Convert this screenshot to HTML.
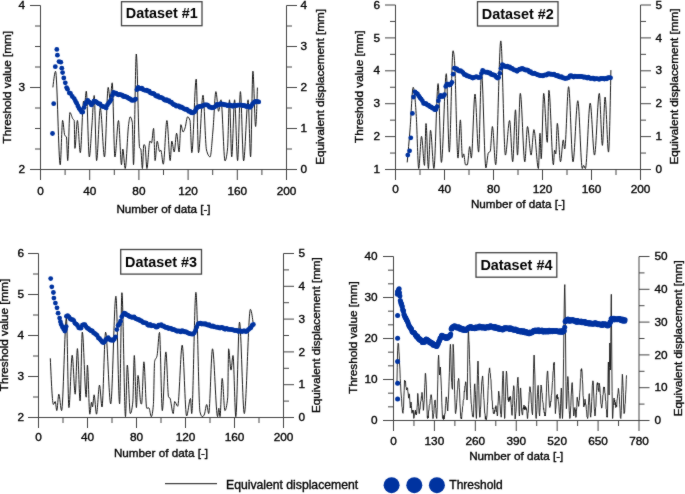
<!DOCTYPE html><html><head><meta charset="utf-8"><style>html,body{margin:0;padding:0;background:#fff;overflow:hidden}svg{display:block}#w{width:685px;height:494px;overflow:hidden}</style></head><body><div id="w"><svg width="685" height="494" viewBox="0 0 685 494" font-family='"Liberation Sans", sans-serif'>
<defs><filter id="soft" x="0" y="0" width="685" height="494" filterUnits="userSpaceOnUse" color-interpolation-filters="sRGB"><feConvolveMatrix order="3" kernelMatrix="1 2 1 2 28 2 1 2 1" divisor="40" edgeMode="duplicate"/></filter></defs><g filter="url(#soft)">
<rect width="685" height="494" fill="#fff"/>
<line x1="40.5" y1="5.5" x2="40.5" y2="169.5" stroke="#444" stroke-width="1"/>
<line x1="286.5" y1="5.5" x2="286.5" y2="169.5" stroke="#444" stroke-width="1"/>
<line x1="30" y1="169.5" x2="297" y2="169.5" stroke="#444" stroke-width="1"/>
<text x="25" y="173.1" font-size="11.8" text-anchor="end" font-weight="normal" fill="#000" stroke="#000" stroke-width="0.35">2</text>
<line x1="35" y1="149" x2="40.5" y2="149" stroke="#444" stroke-width="1"/>
<line x1="35" y1="128.5" x2="40.5" y2="128.5" stroke="#444" stroke-width="1"/>
<line x1="35" y1="108" x2="40.5" y2="108" stroke="#444" stroke-width="1"/>
<line x1="30" y1="87.5" x2="40.5" y2="87.5" stroke="#444" stroke-width="1"/>
<text x="25" y="91.1" font-size="11.8" text-anchor="end" font-weight="normal" fill="#000" stroke="#000" stroke-width="0.35">3</text>
<line x1="35" y1="67" x2="40.5" y2="67" stroke="#444" stroke-width="1"/>
<line x1="35" y1="46.5" x2="40.5" y2="46.5" stroke="#444" stroke-width="1"/>
<line x1="35" y1="26" x2="40.5" y2="26" stroke="#444" stroke-width="1"/>
<line x1="30" y1="5.5" x2="40.5" y2="5.5" stroke="#444" stroke-width="1"/>
<text x="25" y="9.1" font-size="11.8" text-anchor="end" font-weight="normal" fill="#000" stroke="#000" stroke-width="0.35">4</text>
<text x="300.5" y="173.1" font-size="11.8" text-anchor="start" font-weight="normal" fill="#000" stroke="#000" stroke-width="0.35">0</text>
<line x1="286.5" y1="149" x2="292" y2="149" stroke="#444" stroke-width="1"/>
<line x1="286.5" y1="128.5" x2="297" y2="128.5" stroke="#444" stroke-width="1"/>
<text x="300.5" y="132.1" font-size="11.8" text-anchor="start" font-weight="normal" fill="#000" stroke="#000" stroke-width="0.35">1</text>
<line x1="286.5" y1="108" x2="292" y2="108" stroke="#444" stroke-width="1"/>
<line x1="286.5" y1="87.5" x2="297" y2="87.5" stroke="#444" stroke-width="1"/>
<text x="300.5" y="91.1" font-size="11.8" text-anchor="start" font-weight="normal" fill="#000" stroke="#000" stroke-width="0.35">2</text>
<line x1="286.5" y1="67" x2="292" y2="67" stroke="#444" stroke-width="1"/>
<line x1="286.5" y1="46.5" x2="297" y2="46.5" stroke="#444" stroke-width="1"/>
<text x="300.5" y="50.1" font-size="11.8" text-anchor="start" font-weight="normal" fill="#000" stroke="#000" stroke-width="0.35">3</text>
<line x1="286.5" y1="26" x2="292" y2="26" stroke="#444" stroke-width="1"/>
<line x1="286.5" y1="5.5" x2="297" y2="5.5" stroke="#444" stroke-width="1"/>
<text x="300.5" y="9.1" font-size="11.8" text-anchor="start" font-weight="normal" fill="#000" stroke="#000" stroke-width="0.35">4</text>
<line x1="40.5" y1="169.5" x2="40.5" y2="180" stroke="#444" stroke-width="1"/>
<text x="40.5" y="195.3" font-size="11.8" text-anchor="middle" font-weight="normal" fill="#000" stroke="#000" stroke-width="0.35">0</text>
<line x1="65.1" y1="169.5" x2="65.1" y2="175" stroke="#444" stroke-width="1"/>
<line x1="89.7" y1="169.5" x2="89.7" y2="180" stroke="#444" stroke-width="1"/>
<text x="89.7" y="195.3" font-size="11.8" text-anchor="middle" font-weight="normal" fill="#000" stroke="#000" stroke-width="0.35">40</text>
<line x1="114.3" y1="169.5" x2="114.3" y2="175" stroke="#444" stroke-width="1"/>
<line x1="138.9" y1="169.5" x2="138.9" y2="180" stroke="#444" stroke-width="1"/>
<text x="138.9" y="195.3" font-size="11.8" text-anchor="middle" font-weight="normal" fill="#000" stroke="#000" stroke-width="0.35">80</text>
<line x1="163.5" y1="169.5" x2="163.5" y2="175" stroke="#444" stroke-width="1"/>
<line x1="188.1" y1="169.5" x2="188.1" y2="180" stroke="#444" stroke-width="1"/>
<text x="188.1" y="195.3" font-size="11.8" text-anchor="middle" font-weight="normal" fill="#000" stroke="#000" stroke-width="0.35">120</text>
<line x1="212.7" y1="169.5" x2="212.7" y2="175" stroke="#444" stroke-width="1"/>
<line x1="237.3" y1="169.5" x2="237.3" y2="180" stroke="#444" stroke-width="1"/>
<text x="237.3" y="195.3" font-size="11.8" text-anchor="middle" font-weight="normal" fill="#000" stroke="#000" stroke-width="0.35">160</text>
<line x1="261.9" y1="169.5" x2="261.9" y2="175" stroke="#444" stroke-width="1"/>
<line x1="286.5" y1="169.5" x2="286.5" y2="180" stroke="#444" stroke-width="1"/>
<text x="286.5" y="195.3" font-size="11.8" text-anchor="middle" font-weight="normal" fill="#000" stroke="#000" stroke-width="0.35">200</text>
<text x="163.5" y="213.2" font-size="11.7" text-anchor="middle" font-weight="normal" fill="#000" stroke="#000" stroke-width="0.35">Number of data [-]</text>
<text x="11.2" y="87.2" font-size="11.7" text-anchor="middle" font-weight="normal" fill="#000" stroke="#000" stroke-width="0.35" transform="rotate(-90 11.2 87.2)">Threshold value [mm]</text>
<text x="324.3" y="86.9" font-size="11.7" text-anchor="middle" font-weight="normal" fill="#000" stroke="#000" stroke-width="0.35" transform="rotate(-90 324.3 86.9)">Equivalent displacement [mm]</text>
<rect x="121.5" y="1.7" width="80.5" height="24" fill="#fff" stroke="#444" stroke-width="1.3"/>
<text x="161.75" y="18.4" font-size="14.4" text-anchor="middle" font-weight="bold" fill="#000">Dataset #1</text>
<path d="M52.9,87.4C53.8,79.35 54.7,71.3 55.6,71.3C57.13,71.3 58.67,164.8 60.2,164.8C61,164.8 61.8,120.4 62.6,120.4C63.33,120.4 64.07,134.31 64.8,135.5C65.33,136.37 65.87,135.93 66.4,136.8C66.83,137.5 67.27,160.6 67.7,160.6C68.43,160.6 69.17,112.5 69.9,112.5C70.93,112.5 71.97,117.83 73,119.2C73.4,119.73 73.8,119.6 74.2,120.4C74.43,120.87 74.67,148.4 74.9,148.4C75.73,148.4 76.57,120.4 77.4,120.4C78.37,120.4 79.33,152.7 80.3,152.7C81.4,152.7 82.5,101 83.6,101C83.93,101 84.27,104 84.6,104C85.17,104 85.73,91.2 86.3,91.2C87.3,91.2 88.3,157 89.3,157C90.13,157 90.97,137.48 91.8,127C92.6,116.94 93.4,95.5 94.2,95.5C95,95.5 95.8,160.6 96.6,160.6C97.83,160.6 99.07,108.2 100.3,108.2C101.7,108.2 103.1,157 104.5,157C105.73,157 106.97,87.4 108.2,87.4C108.87,87.4 109.53,100 110.2,100C110.87,100 111.53,82.8 112.2,82.8C113.1,82.8 114,157 114.9,157C116.1,157 117.3,120.5 118.5,120.5C119.5,120.5 120.5,164.8 121.5,164.8C121.93,164.8 122.37,149 122.8,149C123.6,149 124.4,168.5 125.2,168.5C126.33,168.5 127.47,133.31 128.6,124.7C129.1,120.9 129.6,116.8 130.1,116.8C130.83,116.8 131.57,118.63 132.3,122.3C132.7,124.3 133.1,164.8 133.5,164.8C134.43,164.8 135.37,54 136.3,54C137.4,54 138.5,145.6 139.6,147.8C140,148.6 140.4,148.2 140.8,149C141.33,150.07 141.87,168.5 142.4,168.5C142.87,168.5 143.33,144.8 143.8,144.8C144.2,144.8 144.6,145 145,145.4C145.63,146.03 146.27,168.5 146.9,168.5C147.9,168.5 148.9,141.1 149.9,141.1C150.43,141.1 150.97,143 151.5,143C152.2,143 152.9,128.4 153.6,128.4C154.1,128.4 154.6,160.6 155.1,160.6C155.8,160.6 156.5,141.1 157.2,141.1C158,141.1 158.8,151.5 159.6,151.5C160,151.5 160.4,150.2 160.8,150.2C161.63,150.2 162.47,164.2 163.3,164.2C164.5,164.2 165.7,120.5 166.9,120.5C168,120.5 169.1,160.6 170.2,160.6C170.73,160.6 171.27,141.1 171.8,141.1C172.6,141.1 173.4,152 174.2,152C175,152 175.8,133.2 176.6,133.2C177.43,133.2 178.27,152 179.1,152C179.7,152 180.3,124.7 180.9,124.7C181.63,124.7 182.37,132 183.1,132C183.77,132 184.43,129.88 185.1,127.8C185.93,125.2 186.77,116.8 187.6,116.8C188.4,116.8 189.2,118.03 190,120.5C190.6,122.35 191.2,152.7 191.8,152.7C193.27,152.7 194.73,79.2 196.2,79.2C196.97,79.2 197.73,152.7 198.5,152.7C200,152.7 201.5,95.2 203,95.2C204.17,95.2 205.33,145.53 206.5,150C207.7,154.6 208.9,156.9 210.1,156.9C211.07,156.9 212.03,140.88 213,130C213.97,119.12 214.93,91.6 215.9,91.6C216.8,91.6 217.7,111.3 218.6,111.3C219.4,111.3 220.2,99.8 221,99.8C222.33,99.8 223.67,160.9 225,160.9C225.83,160.9 226.67,156.93 227.5,149C228.17,142.65 228.83,99.8 229.5,99.8C230.23,99.8 230.97,156.9 231.7,156.9C232.67,156.9 233.63,99.8 234.6,99.8C235.6,99.8 236.6,160.6 237.6,160.6C238.53,160.6 239.47,91.6 240.4,91.6C241.47,91.6 242.53,160.9 243.6,160.9C245.1,160.9 246.6,99.8 248.1,99.8C248.93,99.8 249.77,156.9 250.6,156.9C251.37,156.9 252.13,71.2 252.9,71.2C253.8,71.2 254.7,126.5 255.6,126.5C256.2,126.5 256.8,107.05 257.4,87.6" fill="none" stroke="#1a1a1a" stroke-width="1" stroke-linejoin="round"/>
<g fill="#0033a0"><circle cx="52.5" cy="133.5" r="2.4"/><circle cx="53.7" cy="103.7" r="2.4"/><circle cx="55.3" cy="66.7" r="2.4"/><circle cx="56.8" cy="49.4" r="2.4"/><circle cx="57.4" cy="55.2" r="2.4"/><circle cx="59" cy="61.6" r="2.4"/><circle cx="60.8" cy="62.2" r="2.4"/><circle cx="61.8" cy="68.2" r="2.4"/><circle cx="62.6" cy="72.6" r="2.4"/><circle cx="63.8" cy="78" r="2.4"/><circle cx="65.3" cy="82.8" r="2.4"/><circle cx="66.6" cy="87.6" r="2.4"/><circle cx="67.5" cy="89.2" r="2.4"/><circle cx="69.3" cy="92.9" r="2.4"/><circle cx="70.5" cy="93.5" r="2.4"/><circle cx="72.3" cy="96.5" r="2.4"/><circle cx="74.2" cy="98.53" r="2.4"/><circle cx="75.43" cy="101.08" r="2.4"/><circle cx="76.66" cy="103.14" r="2.4"/><circle cx="77.89" cy="105.93" r="2.4"/><circle cx="79.12" cy="108.42" r="2.4"/><circle cx="80.35" cy="110.01" r="2.4"/><circle cx="81.58" cy="112.1" r="2.4"/><circle cx="82.81" cy="112.04" r="2.4"/><circle cx="84.04" cy="107.55" r="2.4"/><circle cx="85.27" cy="104.04" r="2.4"/><circle cx="86.5" cy="102.06" r="2.4"/><circle cx="87.73" cy="100.51" r="2.4"/><circle cx="88.96" cy="101.91" r="2.4"/><circle cx="90.19" cy="103.03" r="2.4"/><circle cx="91.42" cy="104.89" r="2.4"/><circle cx="92.65" cy="102.98" r="2.4"/><circle cx="93.88" cy="101.14" r="2.4"/><circle cx="95.11" cy="101.46" r="2.4"/><circle cx="96.34" cy="101.85" r="2.4"/><circle cx="97.57" cy="103.03" r="2.4"/><circle cx="98.8" cy="103.84" r="2.4"/><circle cx="100.03" cy="103.91" r="2.4"/><circle cx="101.26" cy="105.81" r="2.4"/><circle cx="102.49" cy="106.41" r="2.4"/><circle cx="103.72" cy="106.72" r="2.4"/><circle cx="104.95" cy="107.05" r="2.4"/><circle cx="106.18" cy="107.95" r="2.4"/><circle cx="107.41" cy="104.94" r="2.4"/><circle cx="108.64" cy="103.08" r="2.4"/><circle cx="109.87" cy="101.54" r="2.4"/><circle cx="111.1" cy="99.54" r="2.4"/><circle cx="112.33" cy="95.48" r="2.4"/><circle cx="113.56" cy="92.36" r="2.4"/><circle cx="114.79" cy="93.18" r="2.4"/><circle cx="116.02" cy="93.06" r="2.4"/><circle cx="117.25" cy="94.31" r="2.4"/><circle cx="118.48" cy="94.84" r="2.4"/><circle cx="119.71" cy="94.42" r="2.4"/><circle cx="120.94" cy="94.91" r="2.4"/><circle cx="122.17" cy="95.26" r="2.4"/><circle cx="123.4" cy="96.54" r="2.4"/><circle cx="124.63" cy="96.1" r="2.4"/><circle cx="125.86" cy="96.97" r="2.4"/><circle cx="127.09" cy="97.22" r="2.4"/><circle cx="128.32" cy="98.22" r="2.4"/><circle cx="129.55" cy="98.76" r="2.4"/><circle cx="130.78" cy="99.42" r="2.4"/><circle cx="132.01" cy="100.45" r="2.4"/><circle cx="133.24" cy="100.15" r="2.4"/><circle cx="134.47" cy="99.98" r="2.4"/><circle cx="135.7" cy="99.05" r="2.4"/><circle cx="136.93" cy="89.63" r="2.4"/><circle cx="138.16" cy="87.51" r="2.4"/><circle cx="139.39" cy="88.34" r="2.4"/><circle cx="140.62" cy="88.54" r="2.4"/><circle cx="141.85" cy="88.24" r="2.4"/><circle cx="143.08" cy="89.58" r="2.4"/><circle cx="144.31" cy="90.09" r="2.4"/><circle cx="145.54" cy="90.37" r="2.4"/><circle cx="146.77" cy="90.26" r="2.4"/><circle cx="148" cy="91.19" r="2.4"/><circle cx="149.23" cy="91.25" r="2.4"/><circle cx="150.46" cy="92.89" r="2.4"/><circle cx="151.69" cy="93.3" r="2.4"/><circle cx="152.92" cy="93.51" r="2.4"/><circle cx="154.15" cy="93.81" r="2.4"/><circle cx="155.38" cy="95.54" r="2.4"/><circle cx="156.61" cy="96.34" r="2.4"/><circle cx="157.84" cy="95.69" r="2.4"/><circle cx="159.07" cy="97.31" r="2.4"/><circle cx="160.3" cy="97.37" r="2.4"/><circle cx="161.53" cy="97.62" r="2.4"/><circle cx="162.76" cy="98.36" r="2.4"/><circle cx="163.99" cy="99.55" r="2.4"/><circle cx="165.22" cy="100.23" r="2.4"/><circle cx="166.45" cy="99.61" r="2.4"/><circle cx="167.68" cy="100.94" r="2.4"/><circle cx="168.91" cy="100.67" r="2.4"/><circle cx="170.14" cy="102.15" r="2.4"/><circle cx="171.37" cy="102.17" r="2.4"/><circle cx="172.6" cy="103.74" r="2.4"/><circle cx="173.83" cy="104.67" r="2.4"/><circle cx="175.06" cy="104.8" r="2.4"/><circle cx="176.29" cy="106.22" r="2.4"/><circle cx="177.52" cy="105.78" r="2.4"/><circle cx="178.75" cy="105.99" r="2.4"/><circle cx="179.98" cy="107.25" r="2.4"/><circle cx="181.21" cy="106.98" r="2.4"/><circle cx="182.44" cy="107.74" r="2.4"/><circle cx="183.67" cy="108.56" r="2.4"/><circle cx="184.9" cy="109.37" r="2.4"/><circle cx="186.13" cy="109.26" r="2.4"/><circle cx="187.36" cy="109.63" r="2.4"/><circle cx="188.59" cy="111.32" r="2.4"/><circle cx="189.82" cy="111.07" r="2.4"/><circle cx="191.05" cy="112.5" r="2.4"/><circle cx="192.28" cy="112.95" r="2.4"/><circle cx="193.51" cy="112.45" r="2.4"/><circle cx="194.74" cy="111.65" r="2.4"/><circle cx="195.97" cy="109.52" r="2.4"/><circle cx="197.2" cy="107.48" r="2.4"/><circle cx="198.43" cy="106.9" r="2.4"/><circle cx="199.66" cy="106.49" r="2.4"/><circle cx="200.89" cy="106.21" r="2.4"/><circle cx="202.12" cy="106.3" r="2.4"/><circle cx="203.35" cy="105.33" r="2.4"/><circle cx="204.58" cy="104.86" r="2.4"/><circle cx="205.81" cy="104.91" r="2.4"/><circle cx="207.04" cy="104.86" r="2.4"/><circle cx="208.27" cy="105.57" r="2.4"/><circle cx="209.5" cy="107.14" r="2.4"/><circle cx="210.73" cy="107.13" r="2.4"/><circle cx="211.96" cy="107.79" r="2.4"/><circle cx="213.19" cy="107.54" r="2.4"/><circle cx="214.42" cy="107.04" r="2.4"/><circle cx="215.65" cy="106.22" r="2.4"/><circle cx="216.88" cy="104.48" r="2.4"/><circle cx="218.11" cy="105.02" r="2.4"/><circle cx="219.34" cy="104.74" r="2.4"/><circle cx="220.57" cy="103.64" r="2.4"/><circle cx="221.8" cy="104.22" r="2.4"/><circle cx="223.03" cy="104.26" r="2.4"/><circle cx="224.26" cy="104.81" r="2.4"/><circle cx="225.49" cy="104.62" r="2.4"/><circle cx="226.72" cy="105.37" r="2.4"/><circle cx="227.95" cy="105.68" r="2.4"/><circle cx="229.18" cy="104.94" r="2.4"/><circle cx="230.41" cy="105.17" r="2.4"/><circle cx="231.64" cy="105.96" r="2.4"/><circle cx="232.87" cy="106.3" r="2.4"/><circle cx="234.1" cy="105.23" r="2.4"/><circle cx="235.33" cy="105.45" r="2.4"/><circle cx="236.56" cy="105.57" r="2.4"/><circle cx="237.79" cy="105.12" r="2.4"/><circle cx="239.02" cy="105.12" r="2.4"/><circle cx="240.25" cy="104.98" r="2.4"/><circle cx="241.48" cy="105.11" r="2.4"/><circle cx="242.71" cy="105.67" r="2.4"/><circle cx="243.94" cy="105.49" r="2.4"/><circle cx="245.17" cy="105.84" r="2.4"/><circle cx="246.4" cy="106.63" r="2.4"/><circle cx="247.63" cy="105.82" r="2.4"/><circle cx="248.86" cy="106.82" r="2.4"/><circle cx="250.09" cy="107.29" r="2.4"/><circle cx="251.32" cy="105.98" r="2.4"/><circle cx="252.55" cy="103.85" r="2.4"/><circle cx="253.78" cy="102.66" r="2.4"/><circle cx="255.01" cy="101.69" r="2.4"/><circle cx="256.24" cy="101.46" r="2.4"/><circle cx="257.47" cy="101.66" r="2.4"/><circle cx="258.7" cy="101.88" r="2.4"/></g>
<line x1="395.5" y1="5" x2="395.5" y2="169.5" stroke="#444" stroke-width="1"/>
<line x1="640.5" y1="5" x2="640.5" y2="169.5" stroke="#444" stroke-width="1"/>
<line x1="385" y1="169.5" x2="651" y2="169.5" stroke="#444" stroke-width="1"/>
<text x="380" y="173.1" font-size="11.8" text-anchor="end" font-weight="normal" fill="#000" stroke="#000" stroke-width="0.35">1</text>
<line x1="390" y1="153.05" x2="395.5" y2="153.05" stroke="#444" stroke-width="1"/>
<line x1="385" y1="136.6" x2="395.5" y2="136.6" stroke="#444" stroke-width="1"/>
<text x="380" y="140.2" font-size="11.8" text-anchor="end" font-weight="normal" fill="#000" stroke="#000" stroke-width="0.35">2</text>
<line x1="390" y1="120.15" x2="395.5" y2="120.15" stroke="#444" stroke-width="1"/>
<line x1="385" y1="103.7" x2="395.5" y2="103.7" stroke="#444" stroke-width="1"/>
<text x="380" y="107.3" font-size="11.8" text-anchor="end" font-weight="normal" fill="#000" stroke="#000" stroke-width="0.35">3</text>
<line x1="390" y1="87.25" x2="395.5" y2="87.25" stroke="#444" stroke-width="1"/>
<line x1="385" y1="70.8" x2="395.5" y2="70.8" stroke="#444" stroke-width="1"/>
<text x="380" y="74.4" font-size="11.8" text-anchor="end" font-weight="normal" fill="#000" stroke="#000" stroke-width="0.35">4</text>
<line x1="390" y1="54.35" x2="395.5" y2="54.35" stroke="#444" stroke-width="1"/>
<line x1="385" y1="37.9" x2="395.5" y2="37.9" stroke="#444" stroke-width="1"/>
<text x="380" y="41.5" font-size="11.8" text-anchor="end" font-weight="normal" fill="#000" stroke="#000" stroke-width="0.35">5</text>
<line x1="390" y1="21.45" x2="395.5" y2="21.45" stroke="#444" stroke-width="1"/>
<line x1="385" y1="5" x2="395.5" y2="5" stroke="#444" stroke-width="1"/>
<text x="380" y="8.6" font-size="11.8" text-anchor="end" font-weight="normal" fill="#000" stroke="#000" stroke-width="0.35">6</text>
<text x="655.5" y="173.1" font-size="11.8" text-anchor="start" font-weight="normal" fill="#000" stroke="#000" stroke-width="0.35">0</text>
<line x1="640.5" y1="153.05" x2="646" y2="153.05" stroke="#444" stroke-width="1"/>
<line x1="640.5" y1="136.6" x2="651" y2="136.6" stroke="#444" stroke-width="1"/>
<text x="655.5" y="140.2" font-size="11.8" text-anchor="start" font-weight="normal" fill="#000" stroke="#000" stroke-width="0.35">1</text>
<line x1="640.5" y1="120.15" x2="646" y2="120.15" stroke="#444" stroke-width="1"/>
<line x1="640.5" y1="103.7" x2="651" y2="103.7" stroke="#444" stroke-width="1"/>
<text x="655.5" y="107.3" font-size="11.8" text-anchor="start" font-weight="normal" fill="#000" stroke="#000" stroke-width="0.35">2</text>
<line x1="640.5" y1="87.25" x2="646" y2="87.25" stroke="#444" stroke-width="1"/>
<line x1="640.5" y1="70.8" x2="651" y2="70.8" stroke="#444" stroke-width="1"/>
<text x="655.5" y="74.4" font-size="11.8" text-anchor="start" font-weight="normal" fill="#000" stroke="#000" stroke-width="0.35">3</text>
<line x1="640.5" y1="54.35" x2="646" y2="54.35" stroke="#444" stroke-width="1"/>
<line x1="640.5" y1="37.9" x2="651" y2="37.9" stroke="#444" stroke-width="1"/>
<text x="655.5" y="41.5" font-size="11.8" text-anchor="start" font-weight="normal" fill="#000" stroke="#000" stroke-width="0.35">4</text>
<line x1="640.5" y1="21.45" x2="646" y2="21.45" stroke="#444" stroke-width="1"/>
<line x1="640.5" y1="5" x2="651" y2="5" stroke="#444" stroke-width="1"/>
<text x="655.5" y="8.6" font-size="11.8" text-anchor="start" font-weight="normal" fill="#000" stroke="#000" stroke-width="0.35">5</text>
<line x1="395.5" y1="169.5" x2="395.5" y2="180" stroke="#444" stroke-width="1"/>
<text x="395.5" y="192.7" font-size="11.8" text-anchor="middle" font-weight="normal" fill="#000" stroke="#000" stroke-width="0.35">0</text>
<line x1="420" y1="169.5" x2="420" y2="175" stroke="#444" stroke-width="1"/>
<line x1="444.5" y1="169.5" x2="444.5" y2="180" stroke="#444" stroke-width="1"/>
<text x="444.5" y="192.7" font-size="11.8" text-anchor="middle" font-weight="normal" fill="#000" stroke="#000" stroke-width="0.35">40</text>
<line x1="469" y1="169.5" x2="469" y2="175" stroke="#444" stroke-width="1"/>
<line x1="493.5" y1="169.5" x2="493.5" y2="180" stroke="#444" stroke-width="1"/>
<text x="493.5" y="192.7" font-size="11.8" text-anchor="middle" font-weight="normal" fill="#000" stroke="#000" stroke-width="0.35">80</text>
<line x1="518" y1="169.5" x2="518" y2="175" stroke="#444" stroke-width="1"/>
<line x1="542.5" y1="169.5" x2="542.5" y2="180" stroke="#444" stroke-width="1"/>
<text x="542.5" y="192.7" font-size="11.8" text-anchor="middle" font-weight="normal" fill="#000" stroke="#000" stroke-width="0.35">120</text>
<line x1="567" y1="169.5" x2="567" y2="175" stroke="#444" stroke-width="1"/>
<line x1="591.5" y1="169.5" x2="591.5" y2="180" stroke="#444" stroke-width="1"/>
<text x="591.5" y="192.7" font-size="11.8" text-anchor="middle" font-weight="normal" fill="#000" stroke="#000" stroke-width="0.35">160</text>
<line x1="616" y1="169.5" x2="616" y2="175" stroke="#444" stroke-width="1"/>
<line x1="640.5" y1="169.5" x2="640.5" y2="180" stroke="#444" stroke-width="1"/>
<text x="640.5" y="192.7" font-size="11.8" text-anchor="middle" font-weight="normal" fill="#000" stroke="#000" stroke-width="0.35">200</text>
<text x="518" y="208.2" font-size="11.7" text-anchor="middle" font-weight="normal" fill="#000" stroke="#000" stroke-width="0.35">Number of data [-]</text>
<text x="362.6" y="86.7" font-size="11.7" text-anchor="middle" font-weight="normal" fill="#000" stroke="#000" stroke-width="0.35" transform="rotate(-90 362.6 86.7)">Threshold value [mm]</text>
<text x="677.5" y="86.5" font-size="11.7" text-anchor="middle" font-weight="normal" fill="#000" stroke="#000" stroke-width="0.35" transform="rotate(-90 677.5 86.5)">Equivalent displacement [mm]</text>
<rect x="477.5" y="1.7" width="80.5" height="24.3" fill="#fff" stroke="#444" stroke-width="1.3"/>
<text x="517.75" y="18.55" font-size="14.4" text-anchor="middle" font-weight="bold" fill="#000">Dataset #2</text>
<path d="M407.2,162.4C408.13,151.99 409.07,141.57 410,130C411.07,116.77 412.13,87.3 413.2,87.3C414.23,87.3 415.27,99.63 416.3,116.5C417.1,129.56 417.9,168.5 418.7,168.5C419.63,168.5 420.57,136.3 421.5,136.3C422.5,136.3 423.5,165.4 424.5,165.4C425,165.4 425.5,123.5 426,123.5C426.8,123.5 427.6,168.5 428.4,168.5C429.1,168.5 429.8,130.2 430.5,130.2C431.63,130.2 432.77,168.5 433.9,168.5C435.3,168.5 436.7,83.6 438.1,83.6C439.2,83.6 440.3,162.4 441.4,162.4C443.03,162.4 444.67,73.7 446.3,73.7C447.3,73.7 448.3,152.1 449.3,152.1C450.53,152.1 451.77,50.7 453,50.7C453.5,50.7 454,53.95 454.5,60.4C455.67,75.45 456.83,158.1 458,158.1C458.8,158.1 459.6,119.9 460.4,119.9C461.07,119.9 461.73,157.5 462.4,157.5C462.83,157.5 463.27,153.9 463.7,153.9C464.3,153.9 464.9,164.8 465.5,164.8C466.1,164.8 466.7,164.8 467.3,164.8C468.1,164.8 468.9,146.6 469.7,146.6C470.23,146.6 470.77,158.1 471.3,158.1C472.53,158.1 473.77,94 475,94C476.2,94 477.4,152.1 478.6,152.1C479.57,152.1 480.53,72 481.5,72C482.97,72 484.43,167.9 485.9,167.9C486.73,167.9 487.57,153.81 488.4,152.7C489,151.9 489.6,152.3 490.2,151.5C490.93,150.52 491.67,126.5 492.4,126.5C493.5,126.5 494.6,164.8 495.7,164.8C497.4,164.8 499.1,40.9 500.8,40.9C502.33,40.9 503.87,155.1 505.4,155.1C506.8,155.1 508.2,120.5 509.6,120.5C510.63,120.5 511.67,161.8 512.7,161.8C513.63,161.8 514.57,109.8 515.5,109.8C516.17,109.8 516.83,155.1 517.5,155.1C518.43,155.1 519.37,93.4 520.3,93.4C521.8,93.4 523.3,161.8 524.8,161.8C525.7,161.8 526.6,126.5 527.5,126.5C528.7,126.5 529.9,155.1 531.1,155.1C532.03,155.1 532.97,129.6 533.9,129.6C535.4,129.6 536.9,168.5 538.4,168.5C538.93,168.5 539.47,133.2 540,133.2C540.4,133.2 540.8,158.7 541.2,158.7C542.03,158.7 542.87,93.4 543.7,93.4C544.9,93.4 546.1,142.3 547.3,142.3C547.83,142.3 548.37,90.3 548.9,90.3C550.4,90.3 551.9,164.8 553.4,164.8C553.8,164.8 554.2,150.2 554.6,150.2C555,150.2 555.4,153.9 555.8,153.9C556.3,153.9 556.8,123.3 557.3,123.3C558.37,123.3 559.43,161.8 560.5,161.8C561.43,161.8 562.37,139.9 563.3,139.9C563.77,139.9 564.23,149 564.7,149C566,149 567.3,86.7 568.6,86.7C570.07,86.7 571.53,161.8 573,161.8C574.6,161.8 576.2,100.7 577.8,100.7C579.3,100.7 580.8,168.5 582.3,168.5C582.73,168.5 583.17,165.4 583.6,165.4C584.2,165.4 584.8,168.5 585.4,168.5C587,168.5 588.6,103.1 590.2,103.1C591.63,103.1 593.07,155.1 594.5,155.1C596.1,155.1 597.7,93.4 599.3,93.4C600.33,93.4 601.37,145.4 602.4,145.4C603.3,145.4 604.2,97 605.1,97C606.23,97 607.37,152.1 608.5,152.1C609.3,152.1 610.1,111.1 610.9,70.1" fill="none" stroke="#1a1a1a" stroke-width="1" stroke-linejoin="round"/>
<g fill="#0033a0"><circle cx="407.8" cy="155.1" r="2.4"/><circle cx="409.6" cy="150.8" r="2.4"/><circle cx="410.8" cy="137.8" r="2.4"/><circle cx="412.4" cy="113.4" r="2.4"/><circle cx="413.5" cy="97" r="2.4"/><circle cx="415" cy="91.83" r="2.4"/><circle cx="416.23" cy="93.04" r="2.4"/><circle cx="417.46" cy="93.92" r="2.4"/><circle cx="418.69" cy="95.78" r="2.4"/><circle cx="419.92" cy="97.69" r="2.4"/><circle cx="421.15" cy="99.11" r="2.4"/><circle cx="422.38" cy="100.83" r="2.4"/><circle cx="423.61" cy="103.46" r="2.4"/><circle cx="424.84" cy="103.49" r="2.4"/><circle cx="426.07" cy="103.7" r="2.4"/><circle cx="427.3" cy="105.06" r="2.4"/><circle cx="428.53" cy="105.19" r="2.4"/><circle cx="429.76" cy="106.56" r="2.4"/><circle cx="430.99" cy="106.91" r="2.4"/><circle cx="432.22" cy="107.99" r="2.4"/><circle cx="433.45" cy="108.17" r="2.4"/><circle cx="434.68" cy="109.7" r="2.4"/><circle cx="435.91" cy="109.51" r="2.4"/><circle cx="437.14" cy="106.69" r="2.4"/><circle cx="438.37" cy="100.86" r="2.4"/><circle cx="439.6" cy="97.2" r="2.4"/><circle cx="440.83" cy="95.36" r="2.4"/><circle cx="442.06" cy="96.57" r="2.4"/><circle cx="443.29" cy="96.24" r="2.4"/><circle cx="444.52" cy="94.6" r="2.4"/><circle cx="445.75" cy="86.4" r="2.4"/><circle cx="446.98" cy="84.27" r="2.4"/><circle cx="448.21" cy="84.24" r="2.4"/><circle cx="449.44" cy="85.1" r="2.4"/><circle cx="450.67" cy="84.18" r="2.4"/><circle cx="451.9" cy="82.36" r="2.4"/><circle cx="453.13" cy="74.16" r="2.4"/><circle cx="454.36" cy="68.15" r="2.4"/><circle cx="455.59" cy="68.76" r="2.4"/><circle cx="456.82" cy="68.99" r="2.4"/><circle cx="458.05" cy="70.4" r="2.4"/><circle cx="459.28" cy="71.05" r="2.4"/><circle cx="460.51" cy="70.68" r="2.4"/><circle cx="461.74" cy="71.59" r="2.4"/><circle cx="462.97" cy="72.57" r="2.4"/><circle cx="464.2" cy="74.49" r="2.4"/><circle cx="465.43" cy="74.62" r="2.4"/><circle cx="466.66" cy="75.75" r="2.4"/><circle cx="467.89" cy="75.79" r="2.4"/><circle cx="469.12" cy="76.56" r="2.4"/><circle cx="470.35" cy="76.88" r="2.4"/><circle cx="471.58" cy="77.31" r="2.4"/><circle cx="472.81" cy="78.11" r="2.4"/><circle cx="474.04" cy="77.37" r="2.4"/><circle cx="475.27" cy="77.08" r="2.4"/><circle cx="476.5" cy="76.66" r="2.4"/><circle cx="477.73" cy="77.37" r="2.4"/><circle cx="478.96" cy="77.62" r="2.4"/><circle cx="480.19" cy="77.28" r="2.4"/><circle cx="481.42" cy="73.4" r="2.4"/><circle cx="482.65" cy="70.31" r="2.4"/><circle cx="483.88" cy="71.59" r="2.4"/><circle cx="485.11" cy="72.04" r="2.4"/><circle cx="486.34" cy="72.26" r="2.4"/><circle cx="487.57" cy="72.19" r="2.4"/><circle cx="488.8" cy="73.03" r="2.4"/><circle cx="490.03" cy="72.96" r="2.4"/><circle cx="491.26" cy="74.46" r="2.4"/><circle cx="492.49" cy="74.74" r="2.4"/><circle cx="493.72" cy="74.98" r="2.4"/><circle cx="494.95" cy="75.34" r="2.4"/><circle cx="496.18" cy="77.12" r="2.4"/><circle cx="497.41" cy="77.98" r="2.4"/><circle cx="498.64" cy="77.39" r="2.4"/><circle cx="499.87" cy="73.29" r="2.4"/><circle cx="501.1" cy="68.34" r="2.4"/><circle cx="502.33" cy="64.72" r="2.4"/><circle cx="503.56" cy="65.29" r="2.4"/><circle cx="504.79" cy="66.33" r="2.4"/><circle cx="506.02" cy="66.85" r="2.4"/><circle cx="507.25" cy="66.1" r="2.4"/><circle cx="508.48" cy="67.35" r="2.4"/><circle cx="509.71" cy="67.01" r="2.4"/><circle cx="510.94" cy="68.4" r="2.4"/><circle cx="512.17" cy="68.33" r="2.4"/><circle cx="513.4" cy="69.59" r="2.4"/><circle cx="514.63" cy="70.22" r="2.4"/><circle cx="515.86" cy="70.05" r="2.4"/><circle cx="517.09" cy="71.23" r="2.4"/><circle cx="518.32" cy="70.03" r="2.4"/><circle cx="519.55" cy="69.11" r="2.4"/><circle cx="520.78" cy="69.24" r="2.4"/><circle cx="522.01" cy="68.45" r="2.4"/><circle cx="523.24" cy="68.99" r="2.4"/><circle cx="524.47" cy="69.59" r="2.4"/><circle cx="525.7" cy="70.18" r="2.4"/><circle cx="526.93" cy="70" r="2.4"/><circle cx="528.16" cy="70.35" r="2.4"/><circle cx="529.39" cy="72.01" r="2.4"/><circle cx="530.62" cy="71.74" r="2.4"/><circle cx="531.85" cy="73.15" r="2.4"/><circle cx="533.08" cy="73.56" r="2.4"/><circle cx="534.31" cy="73.27" r="2.4"/><circle cx="535.54" cy="73.81" r="2.4"/><circle cx="536.77" cy="74.32" r="2.4"/><circle cx="538" cy="74.91" r="2.4"/><circle cx="539.23" cy="75.26" r="2.4"/><circle cx="540.46" cy="75.64" r="2.4"/><circle cx="541.69" cy="75.63" r="2.4"/><circle cx="542.92" cy="75.93" r="2.4"/><circle cx="544.15" cy="75.18" r="2.4"/><circle cx="545.38" cy="74.92" r="2.4"/><circle cx="546.61" cy="75.01" r="2.4"/><circle cx="547.84" cy="74" r="2.4"/><circle cx="549.07" cy="73.75" r="2.4"/><circle cx="550.3" cy="74.37" r="2.4"/><circle cx="551.53" cy="74.13" r="2.4"/><circle cx="552.76" cy="74.57" r="2.4"/><circle cx="553.99" cy="74.21" r="2.4"/><circle cx="555.22" cy="75.18" r="2.4"/><circle cx="556.45" cy="75.81" r="2.4"/><circle cx="557.68" cy="75.42" r="2.4"/><circle cx="558.91" cy="76.64" r="2.4"/><circle cx="560.14" cy="77.04" r="2.4"/><circle cx="561.37" cy="76.61" r="2.4"/><circle cx="562.6" cy="77.78" r="2.4"/><circle cx="563.83" cy="77.92" r="2.4"/><circle cx="565.06" cy="78.6" r="2.4"/><circle cx="566.29" cy="78.2" r="2.4"/><circle cx="567.52" cy="78.1" r="2.4"/><circle cx="568.75" cy="77.54" r="2.4"/><circle cx="569.98" cy="75.93" r="2.4"/><circle cx="571.21" cy="75.61" r="2.4"/><circle cx="572.44" cy="76.54" r="2.4"/><circle cx="573.67" cy="77.01" r="2.4"/><circle cx="574.9" cy="76.08" r="2.4"/><circle cx="576.13" cy="76.43" r="2.4"/><circle cx="577.36" cy="76.69" r="2.4"/><circle cx="578.59" cy="76.38" r="2.4"/><circle cx="579.82" cy="76.51" r="2.4"/><circle cx="581.05" cy="76.5" r="2.4"/><circle cx="582.28" cy="76.71" r="2.4"/><circle cx="583.51" cy="77.23" r="2.4"/><circle cx="584.74" cy="77.02" r="2.4"/><circle cx="585.97" cy="77.33" r="2.4"/><circle cx="587.2" cy="78.09" r="2.4"/><circle cx="588.43" cy="77.24" r="2.4"/><circle cx="589.66" cy="78.19" r="2.4"/><circle cx="590.89" cy="78.6" r="2.4"/><circle cx="592.12" cy="78.17" r="2.4"/><circle cx="593.35" cy="78.23" r="2.4"/><circle cx="594.58" cy="79.21" r="2.4"/><circle cx="595.81" cy="78.6" r="2.4"/><circle cx="597.04" cy="78.7" r="2.4"/><circle cx="598.27" cy="79.05" r="2.4"/><circle cx="599.5" cy="79.31" r="2.4"/><circle cx="600.73" cy="78.38" r="2.4"/><circle cx="601.96" cy="78.58" r="2.4"/><circle cx="603.19" cy="78.5" r="2.4"/><circle cx="604.42" cy="79.1" r="2.4"/><circle cx="605.65" cy="78.36" r="2.4"/><circle cx="606.88" cy="78.73" r="2.4"/><circle cx="608.11" cy="77.54" r="2.4"/><circle cx="609.34" cy="77.56" r="2.4"/><circle cx="610.57" cy="77.78" r="2.4"/></g>
<line x1="38.5" y1="253.5" x2="38.5" y2="417.5" stroke="#444" stroke-width="1"/>
<line x1="283.5" y1="253.5" x2="283.5" y2="417.5" stroke="#444" stroke-width="1"/>
<line x1="28" y1="417.5" x2="294" y2="417.5" stroke="#444" stroke-width="1"/>
<text x="24" y="421.1" font-size="11.8" text-anchor="end" font-weight="normal" fill="#000" stroke="#000" stroke-width="0.35">2</text>
<line x1="33" y1="397" x2="38.5" y2="397" stroke="#444" stroke-width="1"/>
<line x1="28" y1="376.5" x2="38.5" y2="376.5" stroke="#444" stroke-width="1"/>
<text x="24" y="380.1" font-size="11.8" text-anchor="end" font-weight="normal" fill="#000" stroke="#000" stroke-width="0.35">3</text>
<line x1="33" y1="356" x2="38.5" y2="356" stroke="#444" stroke-width="1"/>
<line x1="28" y1="335.5" x2="38.5" y2="335.5" stroke="#444" stroke-width="1"/>
<text x="24" y="339.1" font-size="11.8" text-anchor="end" font-weight="normal" fill="#000" stroke="#000" stroke-width="0.35">4</text>
<line x1="33" y1="315" x2="38.5" y2="315" stroke="#444" stroke-width="1"/>
<line x1="28" y1="294.5" x2="38.5" y2="294.5" stroke="#444" stroke-width="1"/>
<text x="24" y="298.1" font-size="11.8" text-anchor="end" font-weight="normal" fill="#000" stroke="#000" stroke-width="0.35">5</text>
<line x1="33" y1="274" x2="38.5" y2="274" stroke="#444" stroke-width="1"/>
<line x1="28" y1="253.5" x2="38.5" y2="253.5" stroke="#444" stroke-width="1"/>
<text x="24" y="257.1" font-size="11.8" text-anchor="end" font-weight="normal" fill="#000" stroke="#000" stroke-width="0.35">6</text>
<text x="298.5" y="421.1" font-size="11.8" text-anchor="start" font-weight="normal" fill="#000" stroke="#000" stroke-width="0.35">0</text>
<line x1="283.5" y1="401.1" x2="289" y2="401.1" stroke="#444" stroke-width="1"/>
<line x1="283.5" y1="384.7" x2="294" y2="384.7" stroke="#444" stroke-width="1"/>
<text x="298.5" y="388.3" font-size="11.8" text-anchor="start" font-weight="normal" fill="#000" stroke="#000" stroke-width="0.35">1</text>
<line x1="283.5" y1="368.3" x2="289" y2="368.3" stroke="#444" stroke-width="1"/>
<line x1="283.5" y1="351.9" x2="294" y2="351.9" stroke="#444" stroke-width="1"/>
<text x="298.5" y="355.5" font-size="11.8" text-anchor="start" font-weight="normal" fill="#000" stroke="#000" stroke-width="0.35">2</text>
<line x1="283.5" y1="335.5" x2="289" y2="335.5" stroke="#444" stroke-width="1"/>
<line x1="283.5" y1="319.1" x2="294" y2="319.1" stroke="#444" stroke-width="1"/>
<text x="298.5" y="322.7" font-size="11.8" text-anchor="start" font-weight="normal" fill="#000" stroke="#000" stroke-width="0.35">3</text>
<line x1="283.5" y1="302.7" x2="289" y2="302.7" stroke="#444" stroke-width="1"/>
<line x1="283.5" y1="286.3" x2="294" y2="286.3" stroke="#444" stroke-width="1"/>
<text x="298.5" y="289.9" font-size="11.8" text-anchor="start" font-weight="normal" fill="#000" stroke="#000" stroke-width="0.35">4</text>
<line x1="283.5" y1="269.9" x2="289" y2="269.9" stroke="#444" stroke-width="1"/>
<line x1="283.5" y1="253.5" x2="294" y2="253.5" stroke="#444" stroke-width="1"/>
<text x="298.5" y="257.1" font-size="11.8" text-anchor="start" font-weight="normal" fill="#000" stroke="#000" stroke-width="0.35">5</text>
<line x1="38.5" y1="417.5" x2="38.5" y2="428" stroke="#444" stroke-width="1"/>
<text x="38.5" y="440.9" font-size="11.8" text-anchor="middle" font-weight="normal" fill="#000" stroke="#000" stroke-width="0.35">0</text>
<line x1="63" y1="417.5" x2="63" y2="423" stroke="#444" stroke-width="1"/>
<line x1="87.5" y1="417.5" x2="87.5" y2="428" stroke="#444" stroke-width="1"/>
<text x="87.5" y="440.9" font-size="11.8" text-anchor="middle" font-weight="normal" fill="#000" stroke="#000" stroke-width="0.35">40</text>
<line x1="112" y1="417.5" x2="112" y2="423" stroke="#444" stroke-width="1"/>
<line x1="136.5" y1="417.5" x2="136.5" y2="428" stroke="#444" stroke-width="1"/>
<text x="136.5" y="440.9" font-size="11.8" text-anchor="middle" font-weight="normal" fill="#000" stroke="#000" stroke-width="0.35">80</text>
<line x1="161" y1="417.5" x2="161" y2="423" stroke="#444" stroke-width="1"/>
<line x1="185.5" y1="417.5" x2="185.5" y2="428" stroke="#444" stroke-width="1"/>
<text x="185.5" y="440.9" font-size="11.8" text-anchor="middle" font-weight="normal" fill="#000" stroke="#000" stroke-width="0.35">120</text>
<line x1="210" y1="417.5" x2="210" y2="423" stroke="#444" stroke-width="1"/>
<line x1="234.5" y1="417.5" x2="234.5" y2="428" stroke="#444" stroke-width="1"/>
<text x="234.5" y="440.9" font-size="11.8" text-anchor="middle" font-weight="normal" fill="#000" stroke="#000" stroke-width="0.35">160</text>
<line x1="259" y1="417.5" x2="259" y2="423" stroke="#444" stroke-width="1"/>
<line x1="283.5" y1="417.5" x2="283.5" y2="428" stroke="#444" stroke-width="1"/>
<text x="283.5" y="440.9" font-size="11.8" text-anchor="middle" font-weight="normal" fill="#000" stroke="#000" stroke-width="0.35">200</text>
<text x="161" y="456.6" font-size="11.7" text-anchor="middle" font-weight="normal" fill="#000" stroke="#000" stroke-width="0.35">Number of data [-]</text>
<text x="8.3" y="335" font-size="11.7" text-anchor="middle" font-weight="normal" fill="#000" stroke="#000" stroke-width="0.35" transform="rotate(-90 8.3 335)">Threshold value [mm]</text>
<text x="320.5" y="335.1" font-size="11.7" text-anchor="middle" font-weight="normal" fill="#000" stroke="#000" stroke-width="0.35" transform="rotate(-90 320.5 335.1)">Equivalent displacement [mm]</text>
<rect x="120.7" y="249.5" width="80.8" height="24.6" fill="#fff" stroke="#444" stroke-width="1.3"/>
<text x="161.1" y="266.5" font-size="14.4" text-anchor="middle" font-weight="bold" fill="#000">Dataset #3</text>
<path d="M50.3,358.3C51.33,381.4 52.37,404.5 53.4,404.5C54,404.5 54.6,401.5 55.2,401.5C55.73,401.5 56.27,410.6 56.8,410.6C57.47,410.6 58.13,394.2 58.8,394.2C59.73,394.2 60.67,410.6 61.6,410.6C63.2,410.6 64.8,318 66.4,318C67.23,318 68.07,407.6 68.9,407.6C70,407.6 71.1,355.2 72.2,355.2C73.2,355.2 74.2,394.2 75.2,394.2C75.93,394.2 76.67,348.6 77.4,348.6C78.3,348.6 79.2,400.9 80.1,400.9C80.83,400.9 81.57,332 82.3,332C83.6,332 84.9,397.2 86.2,397.2C86.6,397.2 87,365 87.4,365C88.2,365 89,414.2 89.8,414.2C90.4,414.2 91,402.1 91.6,402.1C91.9,402.1 92.2,407 92.5,407C93.03,407 93.57,394.8 94.1,394.8C94.9,394.8 95.7,414.2 96.5,414.2C97.5,414.2 98.5,385.1 99.5,385.1C100.33,385.1 101.17,407 102,407C103.2,407 104.4,332.2 105.6,332.2C107.3,332.2 109,403.9 110.7,403.9C112.43,403.9 114.17,296.2 115.9,296.2C117.13,296.2 118.37,403.9 119.6,403.9C120.37,403.9 121.13,292.7 121.9,292.7C123.1,292.7 124.3,416.7 125.5,416.7C126.1,416.7 126.7,365 127.3,365C128.3,365 129.3,413.6 130.3,413.6C131.13,413.6 131.97,409.77 132.8,402.1C133.3,397.5 133.8,355.5 134.3,355.5C135,355.5 135.7,407.6 136.4,407.6C136.93,407.6 137.47,375.4 138,375.4C139,375.4 140,403.9 141,403.9C141.2,403.9 141.4,403.9 141.6,403.9C142.37,403.9 143.13,361.8 143.9,361.8C144.83,361.8 145.77,408.2 146.7,408.2C147.43,408.2 148.17,407.9 148.9,407.9C149.7,407.9 150.5,416.7 151.3,416.7C152,416.7 152.7,412.63 153.4,404.5C153.8,399.85 154.2,363.55 154.6,361.6C155.43,357.53 156.27,359.57 157.1,355.5C157.9,351.6 158.7,332.4 159.5,332.4C160.43,332.4 161.37,410.6 162.3,410.6C163.5,410.6 164.7,351.9 165.9,351.9C166.8,351.9 167.7,396.3 168.6,397.2C169,397.6 169.4,397.4 169.8,397.8C170.93,398.93 172.07,413.6 173.2,413.6C173.7,413.6 174.2,401.5 174.7,401.5C175.7,401.5 176.7,406.3 177.7,406.3C179.2,406.3 180.7,345.2 182.2,345.2C183.67,345.2 185.13,416 186.6,416C187.9,416 189.2,398.5 190.5,398.5C190.9,398.5 191.3,413.6 191.7,413.6C193.1,413.6 194.5,292.3 195.9,292.3C197.27,292.3 198.63,406.65 200,412C200.8,415.13 201.6,416.7 202.4,416.7C203.1,416.7 203.8,415.8 204.5,414C205.23,412.11 205.97,404.5 206.7,404.5C207.37,404.5 208.03,413.6 208.7,413.6C209.97,413.6 211.23,348.8 212.5,348.8C214.2,348.8 215.9,416.7 217.6,416.7C218,416.7 218.4,408.2 218.8,408.2C219.2,408.2 219.6,416.7 220,416.7C220.73,416.7 221.47,378.4 222.2,378.4C223.1,378.4 224,410.6 224.9,410.6C225.83,410.6 226.77,406.33 227.7,397.8C228,395.06 228.3,348.8 228.6,348.8C229.4,348.8 230.2,370.1 231,370.1C231.67,370.1 232.33,355.5 233,355.5C233.93,355.5 234.87,416.7 235.8,416.7C237.03,416.7 238.27,322.1 239.5,322.1C241.1,322.1 242.7,413.6 244.3,413.6C246.33,413.6 248.37,309.3 250.4,309.3C251.27,309.3 252.13,315.65 253,322" fill="none" stroke="#1a1a1a" stroke-width="1" stroke-linejoin="round"/>
<g fill="#0033a0"><circle cx="50.7" cy="278.6" r="2.4"/><circle cx="51.8" cy="286.8" r="2.4"/><circle cx="53.4" cy="292.5" r="2.4"/><circle cx="53.9" cy="298.1" r="2.4"/><circle cx="55.4" cy="303.1" r="2.4"/><circle cx="57" cy="307.8" r="2.4"/><circle cx="58.1" cy="313.2" r="2.4"/><circle cx="59.6" cy="318.1" r="2.4"/><circle cx="60.4" cy="321.7" r="2.4"/><circle cx="61.2" cy="324.5" r="2.4"/><circle cx="62.4" cy="327" r="2.4"/><circle cx="63.6" cy="329" r="2.4"/><circle cx="64.8" cy="331" r="2.4"/><circle cx="65.6" cy="329" r="2.4"/><circle cx="66.2" cy="326.6" r="2.4"/><circle cx="66.4" cy="316.33" r="2.4"/><circle cx="67.63" cy="315.68" r="2.4"/><circle cx="68.86" cy="316.85" r="2.4"/><circle cx="70.09" cy="318.74" r="2.4"/><circle cx="71.32" cy="319.54" r="2.4"/><circle cx="72.55" cy="319.54" r="2.4"/><circle cx="73.78" cy="320.7" r="2.4"/><circle cx="75.01" cy="323.34" r="2.4"/><circle cx="76.24" cy="324.1" r="2.4"/><circle cx="77.47" cy="325.43" r="2.4"/><circle cx="78.7" cy="327.78" r="2.4"/><circle cx="79.93" cy="328.06" r="2.4"/><circle cx="81.16" cy="328.02" r="2.4"/><circle cx="82.39" cy="325.21" r="2.4"/><circle cx="83.62" cy="324.6" r="2.4"/><circle cx="84.85" cy="324.66" r="2.4"/><circle cx="86.08" cy="326.57" r="2.4"/><circle cx="87.31" cy="328.13" r="2.4"/><circle cx="88.54" cy="328.71" r="2.4"/><circle cx="89.77" cy="329.94" r="2.4"/><circle cx="91" cy="330.76" r="2.4"/><circle cx="92.23" cy="330.81" r="2.4"/><circle cx="93.46" cy="332.68" r="2.4"/><circle cx="94.69" cy="333.45" r="2.4"/><circle cx="95.92" cy="334.41" r="2.4"/><circle cx="97.15" cy="335.4" r="2.4"/><circle cx="98.38" cy="337.91" r="2.4"/><circle cx="99.61" cy="338.66" r="2.4"/><circle cx="100.84" cy="340.31" r="2.4"/><circle cx="102.07" cy="341.84" r="2.4"/><circle cx="103.3" cy="342.7" r="2.4"/><circle cx="104.53" cy="341.73" r="2.4"/><circle cx="105.76" cy="339.74" r="2.4"/><circle cx="106.99" cy="339.05" r="2.4"/><circle cx="108.22" cy="337.69" r="2.4"/><circle cx="109.45" cy="339.3" r="2.4"/><circle cx="110.68" cy="340.15" r="2.4"/><circle cx="111.91" cy="339.99" r="2.4"/><circle cx="113.14" cy="340.46" r="2.4"/><circle cx="114.37" cy="338.88" r="2.4"/><circle cx="115.6" cy="336.85" r="2.4"/><circle cx="116.83" cy="329.61" r="2.4"/><circle cx="118.06" cy="325.49" r="2.4"/><circle cx="119.29" cy="324.14" r="2.4"/><circle cx="120.52" cy="321.27" r="2.4"/><circle cx="121.75" cy="316.79" r="2.4"/><circle cx="122.98" cy="314.84" r="2.4"/><circle cx="124.21" cy="313.26" r="2.4"/><circle cx="125.44" cy="313.75" r="2.4"/><circle cx="126.67" cy="314.88" r="2.4"/><circle cx="127.9" cy="315.25" r="2.4"/><circle cx="129.13" cy="316.28" r="2.4"/><circle cx="130.36" cy="316.72" r="2.4"/><circle cx="131.59" cy="317.31" r="2.4"/><circle cx="132.82" cy="317.27" r="2.4"/><circle cx="134.05" cy="316.96" r="2.4"/><circle cx="135.28" cy="318.34" r="2.4"/><circle cx="136.51" cy="318.89" r="2.4"/><circle cx="137.74" cy="319.43" r="2.4"/><circle cx="138.97" cy="319.74" r="2.4"/><circle cx="140.2" cy="320.72" r="2.4"/><circle cx="141.43" cy="320.8" r="2.4"/><circle cx="142.66" cy="322.34" r="2.4"/><circle cx="143.89" cy="322.6" r="2.4"/><circle cx="145.12" cy="322.81" r="2.4"/><circle cx="146.35" cy="323.11" r="2.4"/><circle cx="147.58" cy="324.84" r="2.4"/><circle cx="148.81" cy="325.44" r="2.4"/><circle cx="150.04" cy="324.52" r="2.4"/><circle cx="151.27" cy="325.86" r="2.4"/><circle cx="152.5" cy="325.66" r="2.4"/><circle cx="153.73" cy="325.64" r="2.4"/><circle cx="154.96" cy="326.18" r="2.4"/><circle cx="156.19" cy="327.19" r="2.4"/><circle cx="157.42" cy="326.96" r="2.4"/><circle cx="158.65" cy="325.19" r="2.4"/><circle cx="159.88" cy="325.37" r="2.4"/><circle cx="161.11" cy="324.76" r="2.4"/><circle cx="162.34" cy="326.07" r="2.4"/><circle cx="163.57" cy="325.89" r="2.4"/><circle cx="164.8" cy="327.02" r="2.4"/><circle cx="166.03" cy="327.52" r="2.4"/><circle cx="167.26" cy="327.36" r="2.4"/><circle cx="168.49" cy="328.57" r="2.4"/><circle cx="169.72" cy="328.13" r="2.4"/><circle cx="170.95" cy="328.32" r="2.4"/><circle cx="172.18" cy="329.58" r="2.4"/><circle cx="173.41" cy="329.31" r="2.4"/><circle cx="174.64" cy="329.92" r="2.4"/><circle cx="175.87" cy="330.58" r="2.4"/><circle cx="177.1" cy="331.23" r="2.4"/><circle cx="178.33" cy="330.97" r="2.4"/><circle cx="179.56" cy="331.14" r="2.4"/><circle cx="180.79" cy="331.9" r="2.4"/><circle cx="182.02" cy="330.72" r="2.4"/><circle cx="183.25" cy="331.27" r="2.4"/><circle cx="184.48" cy="331.8" r="2.4"/><circle cx="185.71" cy="331.68" r="2.4"/><circle cx="186.94" cy="332.41" r="2.4"/><circle cx="188.17" cy="333.07" r="2.4"/><circle cx="189.4" cy="333.54" r="2.4"/><circle cx="190.63" cy="333.78" r="2.4"/><circle cx="191.86" cy="334.03" r="2.4"/><circle cx="193.09" cy="334.1" r="2.4"/><circle cx="194.32" cy="332.83" r="2.4"/><circle cx="195.55" cy="330.5" r="2.4"/><circle cx="196.78" cy="327.08" r="2.4"/><circle cx="198.01" cy="324.17" r="2.4"/><circle cx="199.24" cy="323.29" r="2.4"/><circle cx="200.47" cy="323.18" r="2.4"/><circle cx="201.7" cy="324.05" r="2.4"/><circle cx="202.93" cy="323.75" r="2.4"/><circle cx="204.16" cy="324.13" r="2.4"/><circle cx="205.39" cy="323.72" r="2.4"/><circle cx="206.62" cy="324.63" r="2.4"/><circle cx="207.85" cy="325.2" r="2.4"/><circle cx="209.08" cy="324.76" r="2.4"/><circle cx="210.31" cy="325.94" r="2.4"/><circle cx="211.54" cy="326.3" r="2.4"/><circle cx="212.77" cy="325.79" r="2.4"/><circle cx="214" cy="326.8" r="2.4"/><circle cx="215.23" cy="326.8" r="2.4"/><circle cx="216.46" cy="327.32" r="2.4"/><circle cx="217.69" cy="327.08" r="2.4"/><circle cx="218.92" cy="327.8" r="2.4"/><circle cx="220.15" cy="328.07" r="2.4"/><circle cx="221.38" cy="327.29" r="2.4"/><circle cx="222.61" cy="327.56" r="2.4"/><circle cx="223.84" cy="328.65" r="2.4"/><circle cx="225.07" cy="329.27" r="2.4"/><circle cx="226.3" cy="328.5" r="2.4"/><circle cx="227.53" cy="329.02" r="2.4"/><circle cx="228.76" cy="329.44" r="2.4"/><circle cx="229.99" cy="329.29" r="2.4"/><circle cx="231.22" cy="329.58" r="2.4"/><circle cx="232.45" cy="329.73" r="2.4"/><circle cx="233.68" cy="330.04" r="2.4"/><circle cx="234.91" cy="330.59" r="2.4"/><circle cx="236.14" cy="330.41" r="2.4"/><circle cx="237.37" cy="330.74" r="2.4"/><circle cx="238.6" cy="331.53" r="2.4"/><circle cx="239.83" cy="330.54" r="2.4"/><circle cx="241.06" cy="331.3" r="2.4"/><circle cx="242.29" cy="331.53" r="2.4"/><circle cx="243.52" cy="330.93" r="2.4"/><circle cx="244.75" cy="330.81" r="2.4"/><circle cx="245.98" cy="331.63" r="2.4"/><circle cx="247.21" cy="330.83" r="2.4"/><circle cx="248.44" cy="329.62" r="2.4"/><circle cx="249.67" cy="328.62" r="2.4"/><circle cx="250.9" cy="327.63" r="2.4"/><circle cx="252.13" cy="325.45" r="2.4"/><circle cx="253.36" cy="324.4" r="2.4"/></g>
<line x1="393.5" y1="256.5" x2="393.5" y2="420.5" stroke="#444" stroke-width="1"/>
<line x1="639" y1="256.5" x2="639" y2="420.5" stroke="#444" stroke-width="1"/>
<line x1="383" y1="420.5" x2="649.5" y2="420.5" stroke="#444" stroke-width="1"/>
<text x="377.5" y="424.1" font-size="11.8" text-anchor="end" font-weight="normal" fill="#000" stroke="#000" stroke-width="0.35">0</text>
<line x1="388" y1="406.83" x2="393.5" y2="406.83" stroke="#444" stroke-width="1"/>
<line x1="388" y1="393.17" x2="393.5" y2="393.17" stroke="#444" stroke-width="1"/>
<line x1="383" y1="379.5" x2="393.5" y2="379.5" stroke="#444" stroke-width="1"/>
<text x="377.5" y="383.1" font-size="11.8" text-anchor="end" font-weight="normal" fill="#000" stroke="#000" stroke-width="0.35">10</text>
<line x1="388" y1="365.83" x2="393.5" y2="365.83" stroke="#444" stroke-width="1"/>
<line x1="388" y1="352.17" x2="393.5" y2="352.17" stroke="#444" stroke-width="1"/>
<line x1="383" y1="338.5" x2="393.5" y2="338.5" stroke="#444" stroke-width="1"/>
<text x="377.5" y="342.1" font-size="11.8" text-anchor="end" font-weight="normal" fill="#000" stroke="#000" stroke-width="0.35">20</text>
<line x1="388" y1="324.83" x2="393.5" y2="324.83" stroke="#444" stroke-width="1"/>
<line x1="388" y1="311.17" x2="393.5" y2="311.17" stroke="#444" stroke-width="1"/>
<line x1="383" y1="297.5" x2="393.5" y2="297.5" stroke="#444" stroke-width="1"/>
<text x="377.5" y="301.1" font-size="11.8" text-anchor="end" font-weight="normal" fill="#000" stroke="#000" stroke-width="0.35">30</text>
<line x1="388" y1="283.83" x2="393.5" y2="283.83" stroke="#444" stroke-width="1"/>
<line x1="388" y1="270.17" x2="393.5" y2="270.17" stroke="#444" stroke-width="1"/>
<line x1="383" y1="256.5" x2="393.5" y2="256.5" stroke="#444" stroke-width="1"/>
<text x="377.5" y="260.1" font-size="11.8" text-anchor="end" font-weight="normal" fill="#000" stroke="#000" stroke-width="0.35">40</text>
<text x="654.5" y="424.1" font-size="11.8" text-anchor="start" font-weight="normal" fill="#000" stroke="#000" stroke-width="0.35">0</text>
<line x1="639" y1="404.1" x2="644.5" y2="404.1" stroke="#444" stroke-width="1"/>
<line x1="639" y1="387.7" x2="649.5" y2="387.7" stroke="#444" stroke-width="1"/>
<text x="654.5" y="391.3" font-size="11.8" text-anchor="start" font-weight="normal" fill="#000" stroke="#000" stroke-width="0.35">10</text>
<line x1="639" y1="371.3" x2="644.5" y2="371.3" stroke="#444" stroke-width="1"/>
<line x1="639" y1="354.9" x2="649.5" y2="354.9" stroke="#444" stroke-width="1"/>
<text x="654.5" y="358.5" font-size="11.8" text-anchor="start" font-weight="normal" fill="#000" stroke="#000" stroke-width="0.35">20</text>
<line x1="639" y1="338.5" x2="644.5" y2="338.5" stroke="#444" stroke-width="1"/>
<line x1="639" y1="322.1" x2="649.5" y2="322.1" stroke="#444" stroke-width="1"/>
<text x="654.5" y="325.7" font-size="11.8" text-anchor="start" font-weight="normal" fill="#000" stroke="#000" stroke-width="0.35">30</text>
<line x1="639" y1="305.7" x2="644.5" y2="305.7" stroke="#444" stroke-width="1"/>
<line x1="639" y1="289.3" x2="649.5" y2="289.3" stroke="#444" stroke-width="1"/>
<text x="654.5" y="292.9" font-size="11.8" text-anchor="start" font-weight="normal" fill="#000" stroke="#000" stroke-width="0.35">40</text>
<line x1="639" y1="272.9" x2="644.5" y2="272.9" stroke="#444" stroke-width="1"/>
<line x1="639" y1="256.5" x2="649.5" y2="256.5" stroke="#444" stroke-width="1"/>
<text x="654.5" y="260.1" font-size="11.8" text-anchor="start" font-weight="normal" fill="#000" stroke="#000" stroke-width="0.35">50</text>
<line x1="393.5" y1="420.5" x2="393.5" y2="431" stroke="#444" stroke-width="1"/>
<text x="393.5" y="444.6" font-size="11.8" text-anchor="middle" font-weight="normal" fill="#000" stroke="#000" stroke-width="0.35">0</text>
<line x1="413.96" y1="420.5" x2="413.96" y2="426" stroke="#444" stroke-width="1"/>
<line x1="434.42" y1="420.5" x2="434.42" y2="431" stroke="#444" stroke-width="1"/>
<text x="434.42" y="444.6" font-size="11.8" text-anchor="middle" font-weight="normal" fill="#000" stroke="#000" stroke-width="0.35">130</text>
<line x1="454.88" y1="420.5" x2="454.88" y2="426" stroke="#444" stroke-width="1"/>
<line x1="475.33" y1="420.5" x2="475.33" y2="431" stroke="#444" stroke-width="1"/>
<text x="475.33" y="444.6" font-size="11.8" text-anchor="middle" font-weight="normal" fill="#000" stroke="#000" stroke-width="0.35">260</text>
<line x1="495.79" y1="420.5" x2="495.79" y2="426" stroke="#444" stroke-width="1"/>
<line x1="516.25" y1="420.5" x2="516.25" y2="431" stroke="#444" stroke-width="1"/>
<text x="516.25" y="444.6" font-size="11.8" text-anchor="middle" font-weight="normal" fill="#000" stroke="#000" stroke-width="0.35">390</text>
<line x1="536.71" y1="420.5" x2="536.71" y2="426" stroke="#444" stroke-width="1"/>
<line x1="557.17" y1="420.5" x2="557.17" y2="431" stroke="#444" stroke-width="1"/>
<text x="557.17" y="444.6" font-size="11.8" text-anchor="middle" font-weight="normal" fill="#000" stroke="#000" stroke-width="0.35">520</text>
<line x1="577.62" y1="420.5" x2="577.62" y2="426" stroke="#444" stroke-width="1"/>
<line x1="598.08" y1="420.5" x2="598.08" y2="431" stroke="#444" stroke-width="1"/>
<text x="598.08" y="444.6" font-size="11.8" text-anchor="middle" font-weight="normal" fill="#000" stroke="#000" stroke-width="0.35">650</text>
<line x1="618.54" y1="420.5" x2="618.54" y2="426" stroke="#444" stroke-width="1"/>
<line x1="639" y1="420.5" x2="639" y2="431" stroke="#444" stroke-width="1"/>
<text x="639" y="444.6" font-size="11.8" text-anchor="middle" font-weight="normal" fill="#000" stroke="#000" stroke-width="0.35">780</text>
<text x="516.25" y="459.6" font-size="11.7" text-anchor="middle" font-weight="normal" fill="#000" stroke="#000" stroke-width="0.35">Number of data [-]</text>
<text x="357.2" y="337.5" font-size="11.7" text-anchor="middle" font-weight="normal" fill="#000" stroke="#000" stroke-width="0.35" transform="rotate(-90 357.2 337.5)">Threshold value [mm]</text>
<text x="681.7" y="338.3" font-size="11.7" text-anchor="middle" font-weight="normal" fill="#000" stroke="#000" stroke-width="0.35" transform="rotate(-90 681.7 338.3)">Equivalent displacement [mm]</text>
<rect x="476" y="252.7" width="80.8" height="24.5" fill="#fff" stroke="#444" stroke-width="1.3"/>
<text x="516.4" y="269.65" font-size="14.4" text-anchor="middle" font-weight="bold" fill="#000">Dataset #4</text>
<polyline points="396.93,383.11 397.26,367.26 397.59,350.75 397.92,345.11 398.1,343.2 398.58,344.18 398.91,351.23 399.24,355.12 399.57,364 399.9,369.23 400.23,378.57 400.56,383.58 400.89,391.07 401.2,395 401.55,398.31 401.88,406.32 402.21,407.52 402.54,412.37 403,413.3 403.2,410.42 403.53,408.84 403.86,396.34 404.19,390.54 404.52,380.18 404.8,380.5 405.18,382.04 405.51,381.15 405.84,386.77 406.17,387.08 406.5,390.05 406.7,389.6 407.16,387.66 407.6,388 407.82,391.48 408.15,393.11 408.5,397 408.81,398.21 409.14,393.81 409.5,395 409.8,400.36 410.13,404.89 410.3,408 410.79,403.92 411,402 411.45,405.51 411.78,411.9 412.1,413.3 412.44,410.38 412.77,411.89 413,410 413.43,412 413.76,418.42 414,417.9 414.42,414.25 414.75,414.02 415,412 415.41,410.1 415.74,414.42 416.07,411.91 416.4,414.84 416.7,413.3 417.06,407.62 417.39,403.87 417.72,393.4 417.9,394.2 418.38,402.1 418.71,406.32 419.1,413.6 419.37,413.54 419.7,408.95 420.03,409.19 420.3,405 420.69,401.39 421.02,401.17 421.35,396.79 421.68,397.34 422.01,392.36 422.2,394.2 422.67,400.55 423,402.54 423.33,410.39 423.5,410 423.99,403.08 424.32,399.34 424.65,387.49 424.98,382.58 425.31,373.22 425.6,373.5 425.97,379.94 426.3,384.73 426.63,398.84 426.96,407 427.29,417.49 427.6,418.5 427.95,415.84 428.28,418.03 428.61,410.57 428.94,410.67 429.27,405.41 429.5,405 429.93,403.78 430.26,398.92 430.59,398.65 430.92,394.73 431.3,394.8 431.58,397.08 431.91,400.5 432.24,409.48 432.57,412.79 432.9,418.68 433.1,418.5 433.56,414.24 433.89,413.26 434.22,405.4 434.55,403.4 434.9,400.2 435.21,400.04 435.54,407.76 435.87,408.28 436.2,417.28 436.53,416.98 436.7,418.5 437.19,409.37 437.52,392.09 437.85,379.27 438.18,360.7 438.6,355.2 438.84,359.47 439.17,368.11 439.5,375 439.83,373.53 440.16,367.44 440.4,367 440.82,376.76 441,380 441.48,390.65 441.81,402.69 442.14,409.57 442.47,417.5 442.8,418.5 443.13,417.18 443.46,419.5 443.79,415.34 444.12,419.04 444.6,416 444.78,413.59 445.11,413.64 445.44,405.65 445.77,403.52 446.1,396.87 446.5,397.2 446.76,401.41 447.09,403.06 447.5,410 447.75,410.96 448.08,403.24 448.41,399.31 448.9,386.9 449.07,381.7 449.4,372.68 449.73,357.9 450.06,349.18 450.4,344.3 450.72,349.46 451.05,364.87 451.5,380 451.71,382.32 452.04,387.94 452.5,389.3 452.7,377.13 453.1,344.3 453.36,347.2 453.69,353.35 454.02,366.77 454.35,378.4 454.68,394.6 455.01,402.11 455.34,412.3 455.6,413.6 456,410.89 456.33,409.56 456.66,402.29 456.99,398.68 457.32,389.96 457.65,389.24 457.98,380.86 458.31,380.79 458.6,378.4 458.97,380.29 459.3,387.35 459.63,393.03 459.96,403.47 460.29,407.89 460.62,416.63 461,418.5 461.28,417.52 461.61,418.97 461.94,412.71 462.27,412.19 462.6,406.63 462.93,405.53 463.26,400.38 463.5,400 463.92,398.87 464.25,390.96 464.58,391.8 464.91,385.85 465.24,385.59 465.57,381.8 465.9,382 466.23,387.93 466.56,392.1 467,400 467.22,396.84 467.55,372.43 467.88,349.28 468.3,331.5 468.54,330.67 468.87,340.7 469.2,344.62 469.53,359.52 469.86,366.68 470.19,381.84 470.52,388.43 470.8,395.4 471.18,403.02 471.51,404.82 471.84,410.42 472.17,412.37 472.5,416.26 472.83,415.61 473.2,417.2 473.49,416.19 473.82,403.63 474.15,397.25 474.48,384.9 474.8,383.8 475.14,390.31 475.47,394.55 475.8,408.75 476.13,414.93 476.4,418.5 476.79,409.81 477.12,390.58 477.45,374.33 477.9,361 478.11,361.37 478.44,375.44 478.77,385.51 479.1,404.09 479.43,411.98 479.7,417.2 480.09,417.12 480.42,409.76 480.75,405.99 481.08,394.72 481.41,391.93 481.74,381.46 482.07,380.07 482.5,376 482.73,376.15 483.06,383.43 483.39,386.8 483.72,397.66 484.05,400.41 484.5,410 484.71,413.32 485.04,413.43 485.37,419.24 485.7,416.43 486.03,419.5 486.4,419.7 486.69,417.61 487.02,414.86 487.35,405.26 487.68,401.84 488.01,390.55 488.34,385.38 488.67,373.74 489,372.9 489.4,368.6 489.66,367.87 489.99,372.51 490.32,373.14 490.65,378.33 490.98,379.92 491.31,389.15 491.64,390.96 491.97,399.98 492.3,401.03 492.63,408.87 492.96,407.91 493.29,413.37 493.7,413.6 493.95,412.38 494.28,413.61 494.61,410.27 494.94,411.44 495.27,407.3 495.6,408.46 495.93,405.64 496.1,406.3 496.59,412.15 496.92,412.49 497.3,416 497.58,415.14 497.91,405.33 498.24,401.23 498.57,391.34 498.8,391.1 499.23,395.65 499.56,395.79 499.89,403.92 500.22,406.15 500.55,413.03 500.88,414.55 501.2,417.2 501.54,414.17 501.87,403.54 502.2,394.43 502.53,380.21 502.86,374.57 503.1,371.1 503.52,378.22 503.85,396.41 504.18,408.28 504.6,418.5 504.84,417.73 505.17,405.64 505.5,396.87 505.83,381.64 506.16,375.02 506.4,371.1 506.82,374.12 507.15,383.1 507.48,387.91 507.81,398.21 508.2,400.2 508.47,398.5 508.8,401.87 509.13,397.13 509.46,400.37 509.79,396.8 510.12,399.64 510.45,396.34 510.7,397.8 511.11,404.28 511.44,407.82 511.9,414.8 512.1,415.37 512.43,407.26 512.76,403.6 513.09,391.56 513.42,389.85 513.7,385.7 514.08,387.99 514.41,400.36 514.74,407.64 515.07,419.05 515.3,418.5 515.73,413.51 516.06,411.3 516.39,403 516.72,397.63 517.05,388.3 517.38,383.71 517.71,377.88 518,377.2 518.37,385.74 518.7,394.53 519.03,411.6 519.4,416 519.69,409.51 520.02,399.06 520.4,388.1 520.68,388.02 521.01,396.01 521.34,400.07 521.67,411.65 522,412.95 522.2,414.8 522.66,414.81 522.99,408.18 523.4,407.5 523.65,408.98 523.98,405.06 524.31,409.77 524.64,406.87 524.97,409.17 525.3,406.42 525.63,409.3 525.96,407.43 526.29,409.68 526.5,408.7 526.95,411.74 527.4,418.5 527.61,418.5 527.94,413.61 528.27,412.15 528.6,404.79 528.93,400.72 529.26,392.42 529.59,391.38 529.92,386.67 530.1,386.9 530.58,392.27 530.91,392.21 531.24,402.25 531.57,404.77 531.9,411.47 532.23,413.24 532.5,414.8 532.89,406.83 533.22,385.65 533.55,368.68 534,355 534.21,355.28 534.54,366.92 534.87,374.8 535.2,392.08 535.53,403.62 535.86,416.76 536.2,418.5 536.52,414.17 536.85,410.84 537.18,399.58 537.51,392.77 538,386.3 538.17,385.36 538.5,394.54 538.83,401.34 539.16,412.87 539.6,416 539.82,412.18 540.15,407.51 540.48,393.99 540.81,388.77 541,385 541.47,386.41 541.8,392.51 542.13,392.84 542.46,399.48 542.9,402.7 543.12,402.8 543.45,409.33 543.78,408.42 544.11,412.47 544.44,412.06 544.77,416.01 545.1,415.14 545.3,416 545.76,411.3 546.09,401.12 546.42,392.21 546.75,380.22 547.08,375.02 547.4,371.1 547.74,371.07 548.07,379.11 548.4,383.29 548.73,393.1 549.06,398.06 549.39,405.21 549.8,407.5 550.05,406.11 550.38,406.06 550.71,401.04 551.04,401.41 551.37,395.35 551.7,393.98 552,389.3 552.36,382.4 552.69,380.34 553.02,372.07 553.35,370.5 553.68,363.57 554.01,364.79 554.2,362.2 554.67,378.39 555,401.79 555.4,413.6 555.66,409.53 555.99,407.19 556.32,396.72 556.6,395.4 556.98,397.81 557.31,394.34 557.64,399 557.97,397.26 558.3,401.48 558.5,401.5 558.96,406.13 559.29,412.58 559.62,415.6 560,418.5 560.28,416.86 560.61,403.69 560.94,394.63 561.3,388.1 561.6,392.18 561.93,406.62 562.26,413.1 562.5,418.5 562.92,408.58 563.25,384.01 563.58,358.64 563.91,328.15 564.24,305.97 564.57,287.53 564.8,284.6 565.23,308.06 565.56,340.97 565.89,381.34 566.22,401.9 566.4,408.7 566.88,401.53 567.21,387.85 567.54,381.85 567.8,376.5 568.2,379.75 568.53,390.41 568.86,398.89 569.19,410.43 569.52,414.81 569.8,418.5 570.18,417.59 570.51,410.03 570.84,405.63 571.17,396.25 571.5,391.01 571.83,384.22 572.2,382.6 572.49,387.16 572.82,394.42 573.15,406.37 573.48,412.95 573.7,416 574.14,414.38 574.47,408.32 574.9,407.5 575.13,409.99 575.46,409.86 575.79,417.41 576.1,417.2 576.45,411.16 576.78,407.47 577.11,397.27 577.3,397.2 577.77,401.45 578.1,401.47 578.5,406.3 578.76,406.35 579.09,400.77 579.42,400.1 579.75,392.27 580.08,389.07 580.41,378.72 580.74,377.45 581.07,369.56 581.4,371.17 581.6,368.6 582.06,371.45 582.39,379.71 582.72,384.06 583.05,395.43 583.38,397.94 583.71,406.93 584,406.3 584.37,403.39 584.7,405.15 585.03,399.23 585.2,400.8 585.69,404.6 586.02,404.63 586.35,409.66 586.68,411.93 587.01,417.04 587.34,417.21 587.6,418.5 588,416.41 588.33,405.22 588.66,401 589.1,394.2 589.32,393.63 589.65,402.35 589.98,405.94 590.31,414.27 590.7,417.2 590.97,413.59 591.3,412.55 591.63,401.68 591.96,396.63 592.29,385.82 592.62,383.05 592.9,380.8 593.28,382.16 593.61,391.96 593.94,398.81 594.27,408.75 594.6,411.9 594.9,416 595.26,415.03 595.59,407.79 595.92,406.31 596.25,395.81 596.58,392.29 596.91,384.49 597.4,382.6 597.57,384.79 597.9,382.93 598.23,389.61 598.56,388.72 598.9,391.7 599.2,383.2 599.55,385.29 599.88,387.27 600.21,393.73 600.54,395.83 600.87,403.7 601.2,404.62 601.6,408.1 601.86,407.93 602.19,404.26 602.52,402.18 602.85,394.99 603.18,394.52 603.51,387.34 604,386.9 604.17,388.2 604.5,387.14 604.83,392.86 605.16,393.64 605.49,399.99 605.82,401.36 606.15,408.82 606.48,409.29 606.81,417.15 607.14,416.16 607.4,417.2 607.8,399.19 608.13,369.76 608.4,362 608.79,383.75 609.1,395 609.45,367.6 609.8,343 610.11,358.21 610.4,370 610.77,341.22 611.1,306.24 611.3,294.3 611.9,372 612.09,391.3 612.5,418.5 612.75,418.39 613.08,410.04 613.41,405.7 613.8,400.2 614.07,398.01 614.4,401.92 614.73,400.1 615.06,405 615.39,402.41 615.72,407.57 616.2,406.3 616.38,405.06 616.71,406.62 617.04,400.04 617.37,398.67 617.7,394.17 618.03,393.2 618.36,388.37 618.6,389.3 619.02,393.19 619.35,396.39 619.68,404.69 620.01,408.78 620.34,417.38 620.8,418.5 621,416.34 621.33,410.52 621.66,394.34 621.99,385.37 622.32,374.3 622.5,375.3 622.98,385.5 623.31,392.51 623.64,407 624.1,413.6 624.3,411.97 624.63,412.29 624.96,404.61 625.29,403.49 625.62,394.2 625.95,389.59 626.28,379.5 626.5,375.3" fill="none" stroke="#1a1a1a" stroke-width="0.9" stroke-linejoin="round"/>
<g fill="#0033a0"><circle cx="397.6" cy="399.1" r="2.5"/><circle cx="397.6" cy="383.3" r="2.5"/><circle cx="397.6" cy="361.4" r="2.5"/><circle cx="397.6" cy="338.3" r="2.5"/><circle cx="397.6" cy="315.6" r="2.5"/><circle cx="397.4" cy="294.3" r="2.5"/><circle cx="397.5" cy="291.9" r="2.5"/><circle cx="397.9" cy="291.32" r="2.5"/><circle cx="398.3" cy="291.25" r="2.5"/><circle cx="398.7" cy="289.53" r="2.5"/><circle cx="399.1" cy="288.82" r="2.5"/><circle cx="399.5" cy="292.84" r="2.5"/><circle cx="399.9" cy="295.9" r="2.5"/><circle cx="400.3" cy="300.42" r="2.5"/><circle cx="400.7" cy="302.08" r="2.5"/><circle cx="401.1" cy="303.82" r="2.5"/><circle cx="401.5" cy="303.84" r="2.5"/><circle cx="401.9" cy="305.67" r="2.5"/><circle cx="402.3" cy="306.66" r="2.5"/><circle cx="402.7" cy="309.52" r="2.5"/><circle cx="403.1" cy="310.66" r="2.5"/><circle cx="403.5" cy="310.74" r="2.5"/><circle cx="403.9" cy="313.99" r="2.5"/><circle cx="404.3" cy="315.33" r="2.5"/><circle cx="404.7" cy="316.09" r="2.5"/><circle cx="405.1" cy="317.39" r="2.5"/><circle cx="405.5" cy="317.44" r="2.5"/><circle cx="405.9" cy="317.99" r="2.5"/><circle cx="406.3" cy="319.85" r="2.5"/><circle cx="406.7" cy="319.74" r="2.5"/><circle cx="407.1" cy="320.84" r="2.5"/><circle cx="407.5" cy="321.78" r="2.5"/><circle cx="407.9" cy="322.19" r="2.5"/><circle cx="408.3" cy="323.89" r="2.5"/><circle cx="408.7" cy="324.67" r="2.5"/><circle cx="409.1" cy="326.18" r="2.5"/><circle cx="409.5" cy="326.2" r="2.5"/><circle cx="409.9" cy="327.11" r="2.5"/><circle cx="410.3" cy="327.5" r="2.5"/><circle cx="410.7" cy="328.49" r="2.5"/><circle cx="411.1" cy="328.75" r="2.5"/><circle cx="411.5" cy="329.06" r="2.5"/><circle cx="411.9" cy="331.16" r="2.5"/><circle cx="412.3" cy="331.82" r="2.5"/><circle cx="412.7" cy="332.18" r="2.5"/><circle cx="413.1" cy="332.53" r="2.5"/><circle cx="413.5" cy="332.18" r="2.5"/><circle cx="413.9" cy="332.45" r="2.5"/><circle cx="414.3" cy="333.01" r="2.5"/><circle cx="414.7" cy="333.02" r="2.5"/><circle cx="415.1" cy="334.85" r="2.5"/><circle cx="415.5" cy="334.56" r="2.5"/><circle cx="415.9" cy="335.9" r="2.5"/><circle cx="416.3" cy="335.42" r="2.5"/><circle cx="416.7" cy="337" r="2.5"/><circle cx="417.1" cy="337.22" r="2.5"/><circle cx="417.5" cy="335.97" r="2.5"/><circle cx="417.9" cy="336.83" r="2.5"/><circle cx="418.3" cy="338.67" r="2.5"/><circle cx="418.7" cy="338.24" r="2.5"/><circle cx="419.1" cy="339.7" r="2.5"/><circle cx="419.5" cy="338.97" r="2.5"/><circle cx="419.9" cy="338.72" r="2.5"/><circle cx="420.3" cy="340.18" r="2.5"/><circle cx="420.7" cy="340.82" r="2.5"/><circle cx="421.1" cy="340.14" r="2.5"/><circle cx="421.5" cy="340.12" r="2.5"/><circle cx="421.9" cy="340.96" r="2.5"/><circle cx="422.3" cy="342.57" r="2.5"/><circle cx="422.7" cy="342.5" r="2.5"/><circle cx="423.1" cy="341.56" r="2.5"/><circle cx="423.5" cy="342.16" r="2.5"/><circle cx="423.9" cy="342.22" r="2.5"/><circle cx="424.3" cy="341.6" r="2.5"/><circle cx="424.7" cy="342.26" r="2.5"/><circle cx="425.1" cy="340.19" r="2.5"/><circle cx="425.5" cy="340.14" r="2.5"/><circle cx="425.9" cy="339.36" r="2.5"/><circle cx="426.3" cy="339.1" r="2.5"/><circle cx="426.7" cy="340.43" r="2.5"/><circle cx="427.1" cy="339.48" r="2.5"/><circle cx="427.5" cy="340.76" r="2.5"/><circle cx="427.9" cy="339.96" r="2.5"/><circle cx="428.3" cy="340.82" r="2.5"/><circle cx="428.7" cy="340.66" r="2.5"/><circle cx="429.1" cy="341.03" r="2.5"/><circle cx="429.5" cy="342.68" r="2.5"/><circle cx="429.9" cy="342.6" r="2.5"/><circle cx="430.3" cy="341.86" r="2.5"/><circle cx="430.7" cy="343.27" r="2.5"/><circle cx="431.1" cy="342.2" r="2.5"/><circle cx="431.5" cy="342.85" r="2.5"/><circle cx="431.9" cy="344.05" r="2.5"/><circle cx="432.3" cy="343.9" r="2.5"/><circle cx="432.7" cy="343.1" r="2.5"/><circle cx="433.1" cy="345.16" r="2.5"/><circle cx="433.5" cy="343.89" r="2.5"/><circle cx="433.9" cy="344.26" r="2.5"/><circle cx="434.3" cy="345.57" r="2.5"/><circle cx="434.7" cy="344.96" r="2.5"/><circle cx="435.1" cy="345.17" r="2.5"/><circle cx="435.5" cy="345.01" r="2.5"/><circle cx="435.9" cy="345.32" r="2.5"/><circle cx="436.3" cy="346.59" r="2.5"/><circle cx="436.7" cy="346.19" r="2.5"/><circle cx="437.1" cy="345.94" r="2.5"/><circle cx="437.5" cy="344.52" r="2.5"/><circle cx="437.9" cy="343.73" r="2.5"/><circle cx="438.3" cy="343.78" r="2.5"/><circle cx="438.7" cy="341.87" r="2.5"/><circle cx="439.1" cy="341.09" r="2.5"/><circle cx="439.5" cy="340.82" r="2.5"/><circle cx="439.9" cy="338.64" r="2.5"/><circle cx="440.3" cy="337.76" r="2.5"/><circle cx="440.7" cy="338.45" r="2.5"/><circle cx="441.1" cy="337.46" r="2.5"/><circle cx="441.5" cy="335.5" r="2.5"/><circle cx="441.9" cy="335.3" r="2.5"/><circle cx="442.3" cy="336.56" r="2.5"/><circle cx="442.7" cy="337.13" r="2.5"/><circle cx="443.1" cy="335.8" r="2.5"/><circle cx="443.5" cy="337.47" r="2.5"/><circle cx="443.9" cy="337.5" r="2.5"/><circle cx="444.3" cy="337.11" r="2.5"/><circle cx="444.7" cy="336.91" r="2.5"/><circle cx="445.1" cy="336.43" r="2.5"/><circle cx="445.5" cy="336.47" r="2.5"/><circle cx="445.9" cy="338.48" r="2.5"/><circle cx="446.3" cy="337.19" r="2.5"/><circle cx="446.7" cy="338.29" r="2.5"/><circle cx="447.1" cy="337.45" r="2.5"/><circle cx="447.5" cy="338.32" r="2.5"/><circle cx="447.9" cy="337.6" r="2.5"/><circle cx="448.3" cy="336.73" r="2.5"/><circle cx="448.7" cy="336.23" r="2.5"/><circle cx="449.1" cy="337.06" r="2.5"/><circle cx="449.5" cy="335.49" r="2.5"/><circle cx="449.9" cy="335.55" r="2.5"/><circle cx="450.3" cy="335.95" r="2.5"/><circle cx="450.7" cy="334.07" r="2.5"/><circle cx="451.1" cy="328.93" r="2.5"/><circle cx="451.5" cy="328" r="2.5"/><circle cx="451.9" cy="329.01" r="2.5"/><circle cx="452.3" cy="327.32" r="2.5"/><circle cx="452.7" cy="326.68" r="2.5"/><circle cx="453.1" cy="326.92" r="2.5"/><circle cx="453.5" cy="327.01" r="2.5"/><circle cx="453.9" cy="325.98" r="2.5"/><circle cx="454.3" cy="325.95" r="2.5"/><circle cx="454.7" cy="326.17" r="2.5"/><circle cx="455.1" cy="326.72" r="2.5"/><circle cx="455.5" cy="325.99" r="2.5"/><circle cx="455.9" cy="326.59" r="2.5"/><circle cx="456.3" cy="327.79" r="2.5"/><circle cx="456.7" cy="328.12" r="2.5"/><circle cx="457.1" cy="327.61" r="2.5"/><circle cx="457.5" cy="327.82" r="2.5"/><circle cx="457.9" cy="327.75" r="2.5"/><circle cx="458.3" cy="327.01" r="2.5"/><circle cx="458.7" cy="326.94" r="2.5"/><circle cx="459.1" cy="327.05" r="2.5"/><circle cx="459.5" cy="328.98" r="2.5"/><circle cx="459.9" cy="328.71" r="2.5"/><circle cx="460.3" cy="329.37" r="2.5"/><circle cx="460.7" cy="327.63" r="2.5"/><circle cx="461.1" cy="329" r="2.5"/><circle cx="461.5" cy="328.79" r="2.5"/><circle cx="461.9" cy="329.39" r="2.5"/><circle cx="462.3" cy="328.67" r="2.5"/><circle cx="462.7" cy="330.13" r="2.5"/><circle cx="463.1" cy="328.39" r="2.5"/><circle cx="463.5" cy="329.43" r="2.5"/><circle cx="463.9" cy="329.91" r="2.5"/><circle cx="464.3" cy="330.34" r="2.5"/><circle cx="464.7" cy="330.12" r="2.5"/><circle cx="465.1" cy="330.15" r="2.5"/><circle cx="465.5" cy="330.44" r="2.5"/><circle cx="465.9" cy="330.56" r="2.5"/><circle cx="466.3" cy="329.09" r="2.5"/><circle cx="466.7" cy="329.41" r="2.5"/><circle cx="467.1" cy="329.5" r="2.5"/><circle cx="467.5" cy="329.1" r="2.5"/><circle cx="467.9" cy="327.85" r="2.5"/><circle cx="468.3" cy="328.25" r="2.5"/><circle cx="468.7" cy="328.06" r="2.5"/><circle cx="469.1" cy="327.13" r="2.5"/><circle cx="469.5" cy="327.21" r="2.5"/><circle cx="469.9" cy="326.81" r="2.5"/><circle cx="470.3" cy="327.29" r="2.5"/><circle cx="470.7" cy="327.43" r="2.5"/><circle cx="471.1" cy="326.45" r="2.5"/><circle cx="471.5" cy="327.65" r="2.5"/><circle cx="471.9" cy="328.45" r="2.5"/><circle cx="472.3" cy="328.3" r="2.5"/><circle cx="472.7" cy="328.08" r="2.5"/><circle cx="473.1" cy="327.48" r="2.5"/><circle cx="473.5" cy="328.26" r="2.5"/><circle cx="473.9" cy="328.03" r="2.5"/><circle cx="474.3" cy="327.84" r="2.5"/><circle cx="474.7" cy="328.71" r="2.5"/><circle cx="475.1" cy="327.24" r="2.5"/><circle cx="475.5" cy="328.47" r="2.5"/><circle cx="475.9" cy="326.93" r="2.5"/><circle cx="476.3" cy="327.97" r="2.5"/><circle cx="476.7" cy="327.63" r="2.5"/><circle cx="477.1" cy="327.02" r="2.5"/><circle cx="477.5" cy="327.86" r="2.5"/><circle cx="477.9" cy="327.35" r="2.5"/><circle cx="478.3" cy="327.49" r="2.5"/><circle cx="478.7" cy="328" r="2.5"/><circle cx="479.1" cy="326.56" r="2.5"/><circle cx="479.5" cy="325.97" r="2.5"/><circle cx="479.9" cy="326.52" r="2.5"/><circle cx="480.3" cy="327.32" r="2.5"/><circle cx="480.7" cy="326.41" r="2.5"/><circle cx="481.1" cy="326.38" r="2.5"/><circle cx="481.5" cy="327.89" r="2.5"/><circle cx="481.9" cy="327.44" r="2.5"/><circle cx="482.3" cy="327.05" r="2.5"/><circle cx="482.7" cy="327.99" r="2.5"/><circle cx="483.1" cy="326.9" r="2.5"/><circle cx="483.5" cy="327.62" r="2.5"/><circle cx="483.9" cy="326.72" r="2.5"/><circle cx="484.3" cy="327.23" r="2.5"/><circle cx="484.7" cy="328.02" r="2.5"/><circle cx="485.1" cy="328.28" r="2.5"/><circle cx="485.5" cy="328.25" r="2.5"/><circle cx="485.9" cy="327.21" r="2.5"/><circle cx="486.3" cy="327.53" r="2.5"/><circle cx="486.7" cy="326.92" r="2.5"/><circle cx="487.1" cy="326.49" r="2.5"/><circle cx="487.5" cy="327.13" r="2.5"/><circle cx="487.9" cy="327.74" r="2.5"/><circle cx="488.3" cy="327.69" r="2.5"/><circle cx="488.7" cy="327.33" r="2.5"/><circle cx="489.1" cy="327.74" r="2.5"/><circle cx="489.5" cy="326.31" r="2.5"/><circle cx="489.9" cy="326.02" r="2.5"/><circle cx="490.3" cy="326.51" r="2.5"/><circle cx="490.7" cy="326.08" r="2.5"/><circle cx="491.1" cy="325.89" r="2.5"/><circle cx="491.5" cy="326.26" r="2.5"/><circle cx="491.9" cy="326.81" r="2.5"/><circle cx="492.3" cy="326.67" r="2.5"/><circle cx="492.7" cy="326.44" r="2.5"/><circle cx="493.1" cy="327.61" r="2.5"/><circle cx="493.5" cy="328.02" r="2.5"/><circle cx="493.9" cy="327.08" r="2.5"/><circle cx="494.3" cy="326.45" r="2.5"/><circle cx="494.7" cy="326.49" r="2.5"/><circle cx="495.1" cy="328.3" r="2.5"/><circle cx="495.5" cy="326.76" r="2.5"/><circle cx="495.9" cy="328.22" r="2.5"/><circle cx="496.3" cy="328.07" r="2.5"/><circle cx="496.7" cy="327.67" r="2.5"/><circle cx="497.1" cy="328.76" r="2.5"/><circle cx="497.5" cy="327.34" r="2.5"/><circle cx="497.9" cy="327.7" r="2.5"/><circle cx="498.3" cy="328.46" r="2.5"/><circle cx="498.7" cy="327.73" r="2.5"/><circle cx="499.1" cy="329.46" r="2.5"/><circle cx="499.5" cy="328.4" r="2.5"/><circle cx="499.9" cy="328.33" r="2.5"/><circle cx="500.3" cy="328.27" r="2.5"/><circle cx="500.7" cy="329.56" r="2.5"/><circle cx="501.1" cy="329.13" r="2.5"/><circle cx="501.5" cy="329.42" r="2.5"/><circle cx="501.9" cy="329.41" r="2.5"/><circle cx="502.3" cy="329.64" r="2.5"/><circle cx="502.7" cy="329.88" r="2.5"/><circle cx="503.1" cy="329.26" r="2.5"/><circle cx="503.5" cy="328.23" r="2.5"/><circle cx="503.9" cy="328.71" r="2.5"/><circle cx="504.3" cy="328.05" r="2.5"/><circle cx="504.7" cy="327.65" r="2.5"/><circle cx="505.1" cy="328.5" r="2.5"/><circle cx="505.5" cy="328.92" r="2.5"/><circle cx="505.9" cy="327.78" r="2.5"/><circle cx="506.3" cy="327.9" r="2.5"/><circle cx="506.7" cy="327.98" r="2.5"/><circle cx="507.1" cy="328.61" r="2.5"/><circle cx="507.5" cy="328.19" r="2.5"/><circle cx="507.9" cy="328.35" r="2.5"/><circle cx="508.3" cy="328.71" r="2.5"/><circle cx="508.7" cy="328.06" r="2.5"/><circle cx="509.1" cy="328.94" r="2.5"/><circle cx="509.5" cy="329.24" r="2.5"/><circle cx="509.9" cy="327.68" r="2.5"/><circle cx="510.3" cy="329.45" r="2.5"/><circle cx="510.7" cy="329.11" r="2.5"/><circle cx="511.1" cy="328" r="2.5"/><circle cx="511.5" cy="328.73" r="2.5"/><circle cx="511.9" cy="329.15" r="2.5"/><circle cx="512.3" cy="329.79" r="2.5"/><circle cx="512.7" cy="328.81" r="2.5"/><circle cx="513.1" cy="329.27" r="2.5"/><circle cx="513.5" cy="329.97" r="2.5"/><circle cx="513.9" cy="329.88" r="2.5"/><circle cx="514.3" cy="330.25" r="2.5"/><circle cx="514.7" cy="329.37" r="2.5"/><circle cx="515.1" cy="329.83" r="2.5"/><circle cx="515.5" cy="329.06" r="2.5"/><circle cx="515.9" cy="330.21" r="2.5"/><circle cx="516.3" cy="330.53" r="2.5"/><circle cx="516.7" cy="330.29" r="2.5"/><circle cx="517.1" cy="330.57" r="2.5"/><circle cx="517.5" cy="329.68" r="2.5"/><circle cx="517.9" cy="331.17" r="2.5"/><circle cx="518.3" cy="331.45" r="2.5"/><circle cx="518.7" cy="331.56" r="2.5"/><circle cx="519.1" cy="330.8" r="2.5"/><circle cx="519.5" cy="331.43" r="2.5"/><circle cx="519.9" cy="330.61" r="2.5"/><circle cx="520.3" cy="331.89" r="2.5"/><circle cx="520.7" cy="331.87" r="2.5"/><circle cx="521.1" cy="330.95" r="2.5"/><circle cx="521.5" cy="330.51" r="2.5"/><circle cx="521.9" cy="331.32" r="2.5"/><circle cx="522.3" cy="331.63" r="2.5"/><circle cx="522.7" cy="332.16" r="2.5"/><circle cx="523.1" cy="331.69" r="2.5"/><circle cx="523.5" cy="330.86" r="2.5"/><circle cx="523.9" cy="332.52" r="2.5"/><circle cx="524.3" cy="331.12" r="2.5"/><circle cx="524.7" cy="332.68" r="2.5"/><circle cx="525.1" cy="331.52" r="2.5"/><circle cx="525.5" cy="331.94" r="2.5"/><circle cx="525.9" cy="332.94" r="2.5"/><circle cx="526.3" cy="331.73" r="2.5"/><circle cx="526.7" cy="331.82" r="2.5"/><circle cx="527.1" cy="332.6" r="2.5"/><circle cx="527.5" cy="333.06" r="2.5"/><circle cx="527.9" cy="333.34" r="2.5"/><circle cx="528.3" cy="333.09" r="2.5"/><circle cx="528.7" cy="333.65" r="2.5"/><circle cx="529.1" cy="332.79" r="2.5"/><circle cx="529.5" cy="333.75" r="2.5"/><circle cx="529.9" cy="332.07" r="2.5"/><circle cx="530.3" cy="332.38" r="2.5"/><circle cx="530.7" cy="333.04" r="2.5"/><circle cx="531.1" cy="332.36" r="2.5"/><circle cx="531.5" cy="332.94" r="2.5"/><circle cx="531.9" cy="332.46" r="2.5"/><circle cx="532.3" cy="331.93" r="2.5"/><circle cx="532.7" cy="332.28" r="2.5"/><circle cx="533.1" cy="331.41" r="2.5"/><circle cx="533.5" cy="330.62" r="2.5"/><circle cx="533.9" cy="330.46" r="2.5"/><circle cx="534.3" cy="331.09" r="2.5"/><circle cx="534.7" cy="331.23" r="2.5"/><circle cx="535.1" cy="329.88" r="2.5"/><circle cx="535.5" cy="331.19" r="2.5"/><circle cx="535.9" cy="331.46" r="2.5"/><circle cx="536.3" cy="330.6" r="2.5"/><circle cx="536.7" cy="330.73" r="2.5"/><circle cx="537.1" cy="330.02" r="2.5"/><circle cx="537.5" cy="330.72" r="2.5"/><circle cx="537.9" cy="330.68" r="2.5"/><circle cx="538.3" cy="330.92" r="2.5"/><circle cx="538.7" cy="329.79" r="2.5"/><circle cx="539.1" cy="331.71" r="2.5"/><circle cx="539.5" cy="330.83" r="2.5"/><circle cx="539.9" cy="330.63" r="2.5"/><circle cx="540.3" cy="331.46" r="2.5"/><circle cx="540.7" cy="331.02" r="2.5"/><circle cx="541.1" cy="330.91" r="2.5"/><circle cx="541.5" cy="331.34" r="2.5"/><circle cx="541.9" cy="330.12" r="2.5"/><circle cx="542.3" cy="331.09" r="2.5"/><circle cx="542.7" cy="330.87" r="2.5"/><circle cx="543.1" cy="331.99" r="2.5"/><circle cx="543.5" cy="331.95" r="2.5"/><circle cx="543.9" cy="330.68" r="2.5"/><circle cx="544.3" cy="331.12" r="2.5"/><circle cx="544.7" cy="330.45" r="2.5"/><circle cx="545.1" cy="331.07" r="2.5"/><circle cx="545.5" cy="331.85" r="2.5"/><circle cx="545.9" cy="332.02" r="2.5"/><circle cx="546.3" cy="331.18" r="2.5"/><circle cx="546.7" cy="330.87" r="2.5"/><circle cx="547.1" cy="330.63" r="2.5"/><circle cx="547.5" cy="331.49" r="2.5"/><circle cx="547.9" cy="332.11" r="2.5"/><circle cx="548.3" cy="330.53" r="2.5"/><circle cx="548.7" cy="331.83" r="2.5"/><circle cx="549.1" cy="330.33" r="2.5"/><circle cx="549.5" cy="330.68" r="2.5"/><circle cx="549.9" cy="330.75" r="2.5"/><circle cx="550.3" cy="331.67" r="2.5"/><circle cx="550.7" cy="330.94" r="2.5"/><circle cx="551.1" cy="331.01" r="2.5"/><circle cx="551.5" cy="331.54" r="2.5"/><circle cx="551.9" cy="330.51" r="2.5"/><circle cx="552.3" cy="331.76" r="2.5"/><circle cx="552.7" cy="330.55" r="2.5"/><circle cx="553.1" cy="331.32" r="2.5"/><circle cx="553.5" cy="330.8" r="2.5"/><circle cx="553.9" cy="330.7" r="2.5"/><circle cx="554.3" cy="331.36" r="2.5"/><circle cx="554.7" cy="331.17" r="2.5"/><circle cx="555.1" cy="331.05" r="2.5"/><circle cx="555.5" cy="331.13" r="2.5"/><circle cx="555.9" cy="331.36" r="2.5"/><circle cx="556.3" cy="330.62" r="2.5"/><circle cx="556.7" cy="330.71" r="2.5"/><circle cx="557.1" cy="331.56" r="2.5"/><circle cx="557.5" cy="331.58" r="2.5"/><circle cx="557.9" cy="331.36" r="2.5"/><circle cx="558.3" cy="332" r="2.5"/><circle cx="558.7" cy="331.52" r="2.5"/><circle cx="559.1" cy="332.01" r="2.5"/><circle cx="559.5" cy="330.77" r="2.5"/><circle cx="559.9" cy="331.78" r="2.5"/><circle cx="560.3" cy="331.92" r="2.5"/><circle cx="560.7" cy="332.11" r="2.5"/><circle cx="561.1" cy="330.93" r="2.5"/><circle cx="561.5" cy="330.93" r="2.5"/><circle cx="561.9" cy="332.15" r="2.5"/><circle cx="562.3" cy="330.74" r="2.5"/><circle cx="562.7" cy="332.15" r="2.5"/><circle cx="563.1" cy="331.78" r="2.5"/><circle cx="563.5" cy="330.13" r="2.5"/><circle cx="563.9" cy="330.2" r="2.5"/><circle cx="564.3" cy="331.03" r="2.5"/><circle cx="564.7" cy="327.3" r="2.5"/><circle cx="565.1" cy="321.55" r="2.5"/><circle cx="565.5" cy="321.52" r="2.5"/><circle cx="565.9" cy="320.51" r="2.5"/><circle cx="566.3" cy="321.05" r="2.5"/><circle cx="566.7" cy="319.53" r="2.5"/><circle cx="567.1" cy="319.9" r="2.5"/><circle cx="567.5" cy="320.27" r="2.5"/><circle cx="567.9" cy="318.99" r="2.5"/><circle cx="568.3" cy="319.42" r="2.5"/><circle cx="568.7" cy="320.44" r="2.5"/><circle cx="569.1" cy="320.96" r="2.5"/><circle cx="569.5" cy="321.13" r="2.5"/><circle cx="569.9" cy="319.49" r="2.5"/><circle cx="570.3" cy="320.33" r="2.5"/><circle cx="570.7" cy="320.89" r="2.5"/><circle cx="571.1" cy="320.44" r="2.5"/><circle cx="571.5" cy="320.87" r="2.5"/><circle cx="571.9" cy="319.93" r="2.5"/><circle cx="572.3" cy="319.75" r="2.5"/><circle cx="572.7" cy="319.88" r="2.5"/><circle cx="573.1" cy="319.81" r="2.5"/><circle cx="573.5" cy="320.89" r="2.5"/><circle cx="573.9" cy="320.88" r="2.5"/><circle cx="574.3" cy="321.05" r="2.5"/><circle cx="574.7" cy="320.26" r="2.5"/><circle cx="575.1" cy="320.4" r="2.5"/><circle cx="575.5" cy="320.5" r="2.5"/><circle cx="575.9" cy="321.83" r="2.5"/><circle cx="576.3" cy="322.19" r="2.5"/><circle cx="576.7" cy="322.12" r="2.5"/><circle cx="577.1" cy="320.52" r="2.5"/><circle cx="577.5" cy="320.51" r="2.5"/><circle cx="577.9" cy="322.35" r="2.5"/><circle cx="578.3" cy="321.43" r="2.5"/><circle cx="578.7" cy="322.09" r="2.5"/><circle cx="579.1" cy="321.28" r="2.5"/><circle cx="579.5" cy="321.62" r="2.5"/><circle cx="579.9" cy="321.77" r="2.5"/><circle cx="580.3" cy="321.66" r="2.5"/><circle cx="580.7" cy="322.06" r="2.5"/><circle cx="581.1" cy="320.95" r="2.5"/><circle cx="581.5" cy="322.38" r="2.5"/><circle cx="581.9" cy="322.73" r="2.5"/><circle cx="582.3" cy="321.46" r="2.5"/><circle cx="582.7" cy="322.07" r="2.5"/><circle cx="583.1" cy="322.7" r="2.5"/><circle cx="583.5" cy="322.09" r="2.5"/><circle cx="583.9" cy="321.73" r="2.5"/><circle cx="584.3" cy="321.73" r="2.5"/><circle cx="584.7" cy="322.48" r="2.5"/><circle cx="585.1" cy="321.54" r="2.5"/><circle cx="585.5" cy="323.34" r="2.5"/><circle cx="585.9" cy="323.21" r="2.5"/><circle cx="586.3" cy="323.06" r="2.5"/><circle cx="586.7" cy="323.42" r="2.5"/><circle cx="587.1" cy="323" r="2.5"/><circle cx="587.5" cy="322.59" r="2.5"/><circle cx="587.9" cy="323.03" r="2.5"/><circle cx="588.3" cy="322.88" r="2.5"/><circle cx="588.7" cy="323.89" r="2.5"/><circle cx="589.1" cy="323.58" r="2.5"/><circle cx="589.5" cy="322.53" r="2.5"/><circle cx="589.9" cy="323.88" r="2.5"/><circle cx="590.3" cy="323.59" r="2.5"/><circle cx="590.7" cy="323.71" r="2.5"/><circle cx="591.1" cy="323.82" r="2.5"/><circle cx="591.5" cy="323.05" r="2.5"/><circle cx="591.9" cy="324.08" r="2.5"/><circle cx="592.3" cy="324.09" r="2.5"/><circle cx="592.7" cy="323.77" r="2.5"/><circle cx="593.1" cy="323.96" r="2.5"/><circle cx="593.5" cy="324" r="2.5"/><circle cx="593.9" cy="323.33" r="2.5"/><circle cx="594.3" cy="324.01" r="2.5"/><circle cx="594.7" cy="322.75" r="2.5"/><circle cx="595.1" cy="323.34" r="2.5"/><circle cx="595.5" cy="323.64" r="2.5"/><circle cx="595.9" cy="322.76" r="2.5"/><circle cx="596.3" cy="323.5" r="2.5"/><circle cx="596.7" cy="324.11" r="2.5"/><circle cx="597.1" cy="324.13" r="2.5"/><circle cx="597.5" cy="323.39" r="2.5"/><circle cx="597.9" cy="324.86" r="2.5"/><circle cx="598.3" cy="324.35" r="2.5"/><circle cx="598.7" cy="323.74" r="2.5"/><circle cx="599.1" cy="324.43" r="2.5"/><circle cx="599.5" cy="324.29" r="2.5"/><circle cx="599.9" cy="324.27" r="2.5"/><circle cx="600.3" cy="324.02" r="2.5"/><circle cx="600.7" cy="325.29" r="2.5"/><circle cx="601.1" cy="324.62" r="2.5"/><circle cx="601.5" cy="324.78" r="2.5"/><circle cx="601.9" cy="324.95" r="2.5"/><circle cx="602.3" cy="325.43" r="2.5"/><circle cx="602.7" cy="323.56" r="2.5"/><circle cx="603.1" cy="324.79" r="2.5"/><circle cx="603.5" cy="325.09" r="2.5"/><circle cx="603.9" cy="324.17" r="2.5"/><circle cx="604.3" cy="324.5" r="2.5"/><circle cx="604.7" cy="323.85" r="2.5"/><circle cx="605.1" cy="324.18" r="2.5"/><circle cx="605.5" cy="324.59" r="2.5"/><circle cx="605.9" cy="324.08" r="2.5"/><circle cx="606.3" cy="324.43" r="2.5"/><circle cx="606.7" cy="325.79" r="2.5"/><circle cx="607.1" cy="325.12" r="2.5"/><circle cx="607.5" cy="325.08" r="2.5"/><circle cx="607.9" cy="325.94" r="2.5"/><circle cx="608.3" cy="324.78" r="2.5"/><circle cx="608.7" cy="325.27" r="2.5"/><circle cx="609.1" cy="324.19" r="2.5"/><circle cx="609.5" cy="324.17" r="2.5"/><circle cx="609.9" cy="322.34" r="2.5"/><circle cx="610.3" cy="322.53" r="2.5"/><circle cx="610.7" cy="321.52" r="2.5"/><circle cx="611.1" cy="318.76" r="2.5"/><circle cx="611.5" cy="319.87" r="2.5"/><circle cx="611.9" cy="318.36" r="2.5"/><circle cx="612.3" cy="319" r="2.5"/><circle cx="612.7" cy="318.42" r="2.5"/><circle cx="613.1" cy="319.1" r="2.5"/><circle cx="613.5" cy="319.35" r="2.5"/><circle cx="613.9" cy="318.27" r="2.5"/><circle cx="614.3" cy="320.07" r="2.5"/><circle cx="614.7" cy="319.04" r="2.5"/><circle cx="615.1" cy="319.28" r="2.5"/><circle cx="615.5" cy="319.44" r="2.5"/><circle cx="615.9" cy="319" r="2.5"/><circle cx="616.3" cy="318.87" r="2.5"/><circle cx="616.7" cy="319.63" r="2.5"/><circle cx="617.1" cy="319.46" r="2.5"/><circle cx="617.5" cy="318.93" r="2.5"/><circle cx="617.9" cy="319.82" r="2.5"/><circle cx="618.3" cy="319" r="2.5"/><circle cx="618.7" cy="318.46" r="2.5"/><circle cx="619.1" cy="318.95" r="2.5"/><circle cx="619.5" cy="318.57" r="2.5"/><circle cx="619.9" cy="318.83" r="2.5"/><circle cx="620.3" cy="320.09" r="2.5"/><circle cx="620.7" cy="319.43" r="2.5"/><circle cx="621.1" cy="320.51" r="2.5"/><circle cx="621.5" cy="320.27" r="2.5"/><circle cx="621.9" cy="318.94" r="2.5"/><circle cx="622.3" cy="320.89" r="2.5"/><circle cx="622.7" cy="320.86" r="2.5"/><circle cx="623.1" cy="319.19" r="2.5"/><circle cx="623.5" cy="320.92" r="2.5"/><circle cx="623.9" cy="320.03" r="2.5"/><circle cx="624.3" cy="320.19" r="2.5"/><circle cx="624.7" cy="321.25" r="2.5"/><circle cx="625.1" cy="319.85" r="2.5"/></g>
<line x1="165" y1="483.7" x2="217" y2="483.7" stroke="#111" stroke-width="1"/>
<text x="226" y="488.5" font-size="12.2" text-anchor="start" font-weight="normal" fill="#000" stroke="#000" stroke-width="0.35">Equivalent displacement</text>
<g fill="#0033a0"><circle cx="391.6" cy="485.2" r="8"/><circle cx="414.3" cy="485.2" r="8"/><circle cx="436.9" cy="485.2" r="8"/></g>
<text x="449.3" y="489" font-size="12" text-anchor="start" font-weight="normal" fill="#000" stroke="#000" stroke-width="0.35">Threshold</text>
</g></svg></div></body></html>
